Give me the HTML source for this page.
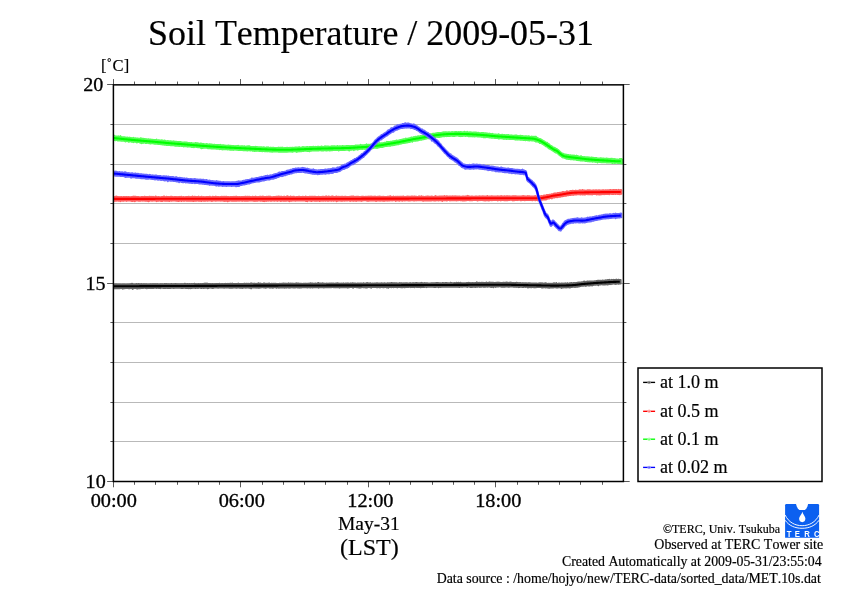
<!DOCTYPE html>
<html lang="en">
<head>
<meta charset="utf-8">
<title>Soil Temperature / 2009-05-31</title>
<style>
html,body{margin:0;padding:0;background:#fff;}
body{width:842px;height:595px;overflow:hidden;}
svg{display:block;will-change:transform;}
text{font-family:"Liberation Serif","Times New Roman",Times,serif;fill:#000;font-kerning:none;font-variant-ligatures:none;stroke:#000;stroke-width:0.18px;}
.logo{font-family:"Liberation Sans",Arial,Helvetica,sans-serif;font-weight:bold;fill:#fff;stroke:none;}
</style>
</head>
<body>
<svg width="842" height="595" viewBox="0 0 842 595">
<rect width="842" height="595" fill="#fff"/>
<g stroke="#b9b9b9" stroke-width="1" fill="none" shape-rendering="crispEdges">
<line x1="113.4" y1="124.5" x2="623.4" y2="124.5"/>
<line x1="113.4" y1="164.5" x2="623.4" y2="164.5"/>
<line x1="113.4" y1="203.5" x2="623.4" y2="203.5"/>
<line x1="113.4" y1="243.5" x2="623.4" y2="243.5"/>
<line x1="113.4" y1="283.5" x2="623.4" y2="283.5"/>
<line x1="113.4" y1="322.5" x2="623.4" y2="322.5"/>
<line x1="113.4" y1="362.5" x2="623.4" y2="362.5"/>
<line x1="113.4" y1="402.5" x2="623.4" y2="402.5"/>
<line x1="113.4" y1="441.5" x2="623.4" y2="441.5"/>
</g>
<g>
<polygon points="113.8,284.40 114.5,284.25 115.3,284.39 116.0,284.10 116.8,284.21 117.5,284.35 118.3,284.32 119.0,284.30 119.8,284.36 120.5,284.38 121.3,284.45 122.0,284.30 122.8,284.23 123.5,284.40 124.3,284.30 125.0,284.27 125.8,284.43 126.5,284.35 127.3,284.20 128.1,284.35 128.8,284.42 129.6,284.34 130.3,284.03 131.1,284.11 131.8,283.60 132.6,283.84 133.3,284.35 134.1,284.27 134.8,284.33 135.6,284.33 136.3,283.76 137.1,284.05 137.8,284.27 138.6,283.77 139.3,284.18 140.1,284.17 140.8,284.21 141.6,283.87 142.3,284.31 143.1,284.33 143.8,283.99 144.6,284.15 145.3,284.33 146.1,284.06 146.8,284.31 147.6,284.31 148.3,284.32 149.1,284.18 149.8,284.15 150.6,284.06 151.3,284.22 152.1,284.07 152.8,284.09 153.6,284.16 154.3,284.04 155.1,283.98 155.8,284.02 156.6,284.29 157.3,283.92 158.1,284.19 158.8,284.27 159.6,284.20 160.3,283.98 161.1,283.94 161.8,284.21 162.6,284.13 163.3,284.19 164.1,284.03 164.8,283.76 165.6,284.18 166.3,283.88 167.1,284.16 167.8,284.00 168.6,284.01 169.3,284.16 170.1,283.96 170.8,284.13 171.6,283.78 172.3,284.19 173.1,284.09 173.8,283.98 174.6,284.15 175.3,283.72 176.1,283.85 176.8,283.94 177.6,283.99 178.3,284.00 179.1,284.19 179.8,284.06 180.6,284.04 181.3,283.92 182.1,284.10 182.8,284.15 183.6,284.09 184.3,283.85 185.1,283.49 185.8,284.12 186.6,284.15 187.3,283.73 188.1,284.05 188.8,283.95 189.6,283.89 190.3,284.10 191.1,283.94 191.8,283.77 192.6,284.02 193.3,283.87 194.1,283.67 194.8,283.60 195.6,284.09 196.3,283.91 197.1,284.07 197.8,284.05 198.6,283.85 199.3,284.09 200.1,284.10 200.8,283.88 201.6,283.95 202.3,283.78 203.1,283.89 203.8,283.63 204.6,283.62 205.3,283.34 206.1,283.89 206.8,283.31 207.6,283.77 208.3,283.69 209.1,283.88 209.8,283.81 210.6,283.90 211.3,283.95 212.1,283.89 212.8,283.92 213.6,283.96 214.3,283.99 215.1,283.78 215.8,283.94 216.6,283.74 217.3,284.02 218.1,283.69 218.8,283.69 219.6,283.58 220.3,284.00 221.1,283.99 221.8,283.85 222.6,283.88 223.3,283.93 224.1,283.87 224.8,283.91 225.6,283.64 226.3,283.74 227.1,283.81 227.8,283.66 228.6,283.71 229.3,283.86 230.1,283.48 230.8,283.62 231.6,283.92 232.3,283.32 233.1,283.96 233.8,283.69 234.6,283.88 235.3,283.76 236.1,283.88 236.8,283.73 237.6,283.74 238.3,283.34 239.1,283.87 239.8,283.75 240.6,283.89 241.3,283.90 242.1,283.89 242.8,283.91 243.6,283.86 244.3,283.41 245.1,283.66 245.8,283.73 246.6,283.55 247.3,283.71 248.1,283.50 248.8,283.74 249.6,283.84 250.3,283.61 251.1,283.02 251.8,283.62 252.6,283.54 253.3,283.64 254.1,283.84 254.8,283.40 255.6,283.81 256.3,283.72 257.1,283.49 257.8,283.57 258.6,283.04 259.3,283.84 260.1,283.36 260.8,283.51 261.6,283.79 262.3,283.67 263.1,283.52 263.8,283.28 264.6,283.22 265.3,283.51 266.1,283.71 266.8,283.62 267.6,283.81 268.3,283.43 269.1,283.25 269.8,283.52 270.6,283.72 271.3,283.65 272.1,283.61 272.8,283.73 273.6,283.63 274.3,283.75 275.1,283.44 275.8,283.65 276.6,283.72 277.3,283.68 278.1,283.76 278.8,283.69 279.6,283.55 280.3,283.67 281.1,283.73 281.8,283.56 282.6,283.60 283.3,283.38 284.1,283.60 284.8,283.41 285.6,283.53 286.3,283.64 287.1,283.62 287.8,283.62 288.6,283.13 289.3,283.61 290.1,283.66 290.8,283.31 291.6,283.50 292.3,283.52 293.1,283.39 293.8,283.69 294.6,283.66 295.3,283.65 296.1,283.23 296.8,283.17 297.6,283.53 298.3,283.24 299.1,283.52 299.8,283.59 300.6,283.60 301.3,283.59 302.1,283.68 302.8,283.62 303.6,283.46 304.3,283.48 305.1,283.54 305.8,283.42 306.6,283.66 307.3,283.54 308.1,283.61 308.8,283.41 309.6,283.48 310.3,283.14 311.1,283.36 311.8,283.65 312.6,283.25 313.3,283.65 314.1,283.64 314.8,283.39 315.6,283.38 316.3,283.46 317.1,283.55 317.8,282.91 318.6,282.71 319.3,283.43 320.1,283.42 320.8,283.38 321.6,283.62 322.3,283.10 323.1,283.44 323.8,283.37 324.6,283.49 325.3,283.54 326.1,283.48 326.8,283.35 327.6,283.49 328.3,283.56 329.1,283.41 329.8,283.20 330.6,283.55 331.3,283.35 332.1,283.31 332.8,283.56 333.6,283.37 334.3,283.56 335.1,283.52 335.8,283.36 336.6,283.40 337.3,283.06 338.1,283.50 338.8,283.41 339.6,283.54 340.3,283.44 341.1,283.37 341.8,283.54 342.6,283.49 343.3,283.15 344.1,283.58 344.8,283.48 345.6,283.29 346.3,283.48 347.1,283.14 347.8,283.38 348.6,283.32 349.3,283.45 350.1,283.53 350.8,283.14 351.6,283.55 352.3,283.05 353.1,283.13 353.8,283.53 354.6,283.36 355.3,283.27 356.1,283.43 356.8,283.47 357.6,283.23 358.3,283.26 359.1,283.48 359.8,283.38 360.6,283.25 361.3,283.19 362.1,283.52 362.8,283.38 363.6,283.12 364.3,283.33 365.1,283.51 365.8,283.37 366.6,283.03 367.3,282.82 368.1,283.43 368.8,283.17 369.6,283.32 370.3,283.10 371.1,283.35 371.8,283.43 372.6,283.31 373.3,283.47 374.1,283.25 374.8,283.32 375.6,283.22 376.3,283.48 377.1,282.97 377.8,283.22 378.6,283.34 379.3,283.20 380.1,283.36 380.8,283.21 381.6,283.14 382.3,283.28 383.1,283.31 383.8,283.25 384.6,283.14 385.3,283.22 386.1,283.42 386.8,283.43 387.6,283.08 388.3,283.22 389.1,283.06 389.8,283.29 390.6,283.20 391.3,282.78 392.1,282.91 392.8,283.25 393.6,283.01 394.3,283.00 395.1,283.04 395.8,283.25 396.6,283.09 397.3,283.19 398.1,283.23 398.8,283.35 399.6,282.93 400.3,283.38 401.1,283.08 401.8,283.10 402.6,283.32 403.3,283.34 404.1,283.02 404.8,283.19 405.6,283.13 406.3,283.15 407.1,283.12 407.8,283.31 408.6,283.27 409.3,283.28 410.1,282.83 410.8,283.28 411.6,283.26 412.3,283.07 413.1,283.10 413.8,282.91 414.6,283.15 415.3,283.17 416.1,282.71 416.8,282.83 417.6,283.14 418.3,283.02 419.1,283.18 419.8,282.94 420.6,282.99 421.3,282.60 422.1,283.05 422.8,282.92 423.6,283.18 424.3,282.92 425.1,282.95 425.8,283.01 426.6,283.05 427.3,282.99 428.1,283.22 428.8,283.21 429.6,283.23 430.3,283.18 431.1,283.06 431.8,283.14 432.6,283.13 433.3,282.93 434.1,283.04 434.8,283.14 435.6,283.09 436.3,282.77 437.1,283.06 437.8,282.69 438.6,283.15 439.3,283.15 440.1,283.00 440.8,283.02 441.6,283.18 442.3,282.86 443.1,282.85 443.8,283.01 444.6,282.97 445.3,282.85 446.1,282.76 446.8,282.90 447.6,283.05 448.3,283.03 449.1,283.14 449.8,282.88 450.6,282.50 451.3,282.86 452.1,283.05 452.8,283.12 453.6,282.98 454.3,282.88 455.1,283.06 455.8,283.05 456.6,282.55 457.3,283.08 458.1,282.69 458.8,282.56 459.6,283.06 460.3,282.60 461.1,282.86 461.8,282.94 462.6,282.98 463.3,283.05 464.1,282.98 464.8,282.99 465.6,283.00 466.3,282.91 467.1,282.77 467.8,283.03 468.6,282.57 469.3,282.94 470.1,282.83 470.8,282.96 471.6,282.92 472.3,282.82 473.1,282.80 473.8,282.92 474.6,282.83 475.3,282.68 476.1,282.86 476.8,282.21 477.6,282.94 478.3,282.67 479.1,282.58 479.8,282.92 480.6,282.71 481.3,282.60 482.1,282.90 482.8,282.61 483.6,282.86 484.3,282.88 485.1,282.82 485.8,282.76 486.6,282.29 487.3,282.86 488.1,282.91 488.8,282.51 489.6,282.26 490.3,282.50 491.1,282.59 491.8,282.55 492.6,282.58 493.3,282.64 494.1,282.71 494.8,282.73 495.6,282.83 496.3,282.51 497.1,282.72 497.8,282.40 498.6,282.51 499.3,282.65 500.1,282.85 500.8,282.66 501.6,282.83 502.3,282.68 503.1,282.59 503.8,282.63 504.6,282.75 505.3,282.45 506.1,282.47 506.8,282.26 507.6,282.73 508.3,282.95 509.1,282.56 509.8,282.55 510.6,282.41 511.3,282.63 512.0,282.86 512.8,282.87 513.5,282.88 514.3,282.99 515.0,282.72 515.8,282.94 516.5,282.56 517.3,282.78 518.0,282.86 518.8,283.17 519.5,282.89 520.3,282.91 521.0,283.00 521.8,283.21 522.5,282.91 523.3,283.13 524.0,282.96 524.8,283.26 525.5,282.95 526.3,282.99 527.0,283.18 527.8,283.13 528.5,282.93 529.3,283.10 530.0,283.01 530.8,283.17 531.5,283.35 532.3,283.42 533.0,283.38 533.8,283.25 534.5,283.22 535.3,283.19 536.0,283.24 536.8,283.37 537.5,283.52 538.3,283.51 539.0,283.04 539.8,283.54 540.5,283.05 541.3,283.51 542.0,283.08 542.8,283.45 543.5,283.41 544.3,283.67 545.0,283.11 545.8,283.17 546.5,283.35 547.3,283.70 548.0,283.65 548.8,283.55 549.5,283.66 550.3,283.49 551.0,283.70 551.8,283.58 552.5,283.54 553.3,283.52 554.0,282.98 554.8,283.48 555.5,283.77 556.3,282.87 557.0,283.69 557.8,283.69 558.5,283.35 559.3,283.32 560.0,283.62 560.8,283.58 561.5,283.35 562.3,283.60 563.0,283.23 563.8,283.43 564.5,283.45 565.3,283.08 566.0,283.51 566.8,283.51 567.5,283.02 568.3,283.55 569.0,283.44 569.8,283.08 570.5,283.32 571.3,282.79 572.0,282.97 572.8,283.33 573.5,282.85 574.3,283.16 575.0,282.86 575.8,282.97 576.5,282.74 577.3,282.66 578.0,282.65 578.8,282.18 579.5,282.37 580.3,282.42 581.0,282.22 581.8,282.09 582.5,282.12 583.3,282.09 584.0,281.30 584.8,281.50 585.5,281.92 586.3,281.83 587.0,281.36 587.8,281.24 588.5,281.60 589.3,281.39 590.0,281.35 590.8,281.42 591.5,281.40 592.3,281.25 593.0,281.35 593.8,281.21 594.5,281.10 595.3,281.21 596.0,280.84 596.8,280.90 597.5,280.63 598.3,280.48 599.0,280.48 599.8,280.75 600.5,280.55 601.3,280.76 602.0,280.59 602.8,280.40 603.5,280.51 604.3,280.50 605.0,280.41 605.8,280.10 606.5,280.34 607.3,280.14 608.0,279.75 608.8,280.28 609.5,279.68 610.3,280.22 611.0,280.02 611.8,279.58 612.5,280.14 613.3,279.59 614.0,280.07 614.8,279.73 615.5,280.03 616.3,279.37 617.0,279.85 617.8,279.84 618.5,279.50 619.3,279.69 620.0,279.81 620.8,279.74 620.8,283.77 620.0,283.52 619.3,283.65 618.5,284.01 617.8,283.82 617.0,283.73 616.3,283.92 615.5,284.10 614.8,283.90 614.0,283.75 613.3,283.81 612.5,283.92 611.8,283.88 611.0,284.36 610.3,283.91 609.5,284.29 608.8,284.33 608.0,284.30 607.3,284.77 606.5,284.36 605.8,284.51 605.0,284.76 604.3,284.66 603.5,284.41 602.8,284.63 602.0,284.50 601.3,284.46 600.5,284.62 599.8,284.66 599.0,284.57 598.3,285.38 597.5,284.77 596.8,284.81 596.0,284.90 595.3,284.92 594.5,284.88 593.8,284.96 593.0,285.14 592.3,285.67 591.5,285.52 590.8,285.39 590.0,285.59 589.3,285.71 588.5,285.65 587.8,285.57 587.0,285.47 586.3,285.88 585.5,286.09 584.8,285.75 584.0,285.79 583.3,285.90 582.5,286.04 581.8,286.05 581.0,286.03 580.3,286.35 579.5,286.57 578.8,286.74 578.0,286.63 577.3,287.06 576.5,286.78 575.8,286.88 575.0,287.25 574.3,287.09 573.5,286.93 572.8,287.08 572.0,287.21 571.3,287.27 570.5,287.34 569.8,287.82 569.0,287.57 568.3,287.33 567.5,287.57 566.8,287.52 566.0,287.75 565.3,287.33 564.5,287.48 563.8,287.66 563.0,287.35 562.3,287.80 561.5,288.08 560.8,287.38 560.0,287.36 559.3,287.38 558.5,287.39 557.8,287.72 557.0,287.57 556.3,287.65 555.5,287.45 554.8,287.54 554.0,287.54 553.3,287.73 552.5,287.65 551.8,287.42 551.0,287.61 550.3,287.83 549.5,287.92 548.8,287.57 548.0,287.97 547.3,287.42 546.5,287.43 545.8,287.68 545.0,287.46 544.3,287.50 543.5,287.45 542.8,287.66 542.0,287.81 541.3,287.28 540.5,287.25 539.8,287.26 539.0,287.20 538.3,287.21 537.5,287.21 536.8,287.33 536.0,287.47 535.3,287.39 534.5,287.58 533.8,287.38 533.0,287.22 532.3,287.26 531.5,287.52 530.8,287.41 530.0,287.11 529.3,287.34 528.5,287.48 527.8,287.68 527.0,287.07 526.3,287.05 525.5,287.08 524.8,287.07 524.0,287.04 523.3,287.31 522.5,286.99 521.8,287.09 521.0,286.90 520.3,286.91 519.5,287.13 518.8,287.33 518.0,286.95 517.3,286.83 516.5,287.08 515.8,286.72 515.0,286.87 514.3,286.81 513.5,286.86 512.8,286.82 512.0,286.73 511.3,286.75 510.6,286.69 509.8,286.74 509.1,286.92 508.3,286.99 507.6,286.60 506.8,286.75 506.1,286.64 505.3,286.84 504.6,286.75 503.8,287.00 503.1,286.88 502.3,286.72 501.6,286.96 500.8,286.70 500.1,286.55 499.3,286.56 498.6,286.67 497.8,286.65 497.1,286.72 496.3,286.55 495.6,287.10 494.8,286.84 494.1,286.51 493.3,287.36 492.6,286.78 491.8,287.06 491.1,287.26 490.3,286.87 489.6,286.59 488.8,286.53 488.1,286.78 487.3,286.86 486.6,286.79 485.8,286.67 485.1,286.94 484.3,286.99 483.6,287.04 482.8,286.63 482.1,286.81 481.3,286.93 480.6,286.70 479.8,287.16 479.1,286.66 478.3,286.74 477.6,286.99 476.8,286.81 476.1,286.85 475.3,287.18 474.6,286.82 473.8,286.85 473.1,286.77 472.3,287.13 471.6,287.26 470.8,287.09 470.1,287.13 469.3,286.73 468.6,286.63 467.8,286.83 467.1,287.17 466.3,286.72 465.6,286.70 464.8,286.75 464.1,286.79 463.3,286.74 462.6,286.86 461.8,286.96 461.1,286.72 460.3,286.81 459.6,287.18 458.8,286.75 458.1,287.10 457.3,286.79 456.6,286.96 455.8,286.74 455.1,286.94 454.3,286.74 453.6,287.03 452.8,286.73 452.1,286.84 451.3,286.89 450.6,286.78 449.8,287.02 449.1,286.96 448.3,286.76 447.6,286.84 446.8,286.95 446.1,286.88 445.3,286.94 444.6,287.06 443.8,286.81 443.1,286.92 442.3,287.03 441.6,286.86 440.8,287.19 440.1,286.92 439.3,287.07 438.6,287.42 437.8,286.92 437.1,286.86 436.3,287.07 435.6,287.21 434.8,287.10 434.1,287.28 433.3,286.90 432.6,287.05 431.8,286.85 431.1,286.95 430.3,287.02 429.6,287.07 428.8,286.97 428.1,286.89 427.3,286.93 426.6,287.38 425.8,287.00 425.1,286.91 424.3,287.12 423.6,286.95 422.8,287.13 422.1,286.99 421.3,287.17 420.6,287.43 419.8,287.08 419.1,287.31 418.3,286.98 417.6,287.09 416.8,287.25 416.1,287.00 415.3,286.97 414.6,287.39 413.8,287.07 413.1,287.16 412.3,287.12 411.6,286.98 410.8,287.36 410.1,286.98 409.3,286.94 408.6,287.30 407.8,287.09 407.1,287.13 406.3,287.22 405.6,287.11 404.8,287.53 404.1,287.37 403.3,287.02 402.6,287.44 401.8,287.26 401.1,287.43 400.3,287.13 399.6,287.04 398.8,287.26 398.1,287.16 397.3,287.63 396.6,287.24 395.8,287.05 395.1,287.26 394.3,287.30 393.6,287.38 392.8,287.28 392.1,287.30 391.3,287.38 390.6,287.20 389.8,287.18 389.1,287.11 388.3,287.90 387.6,287.07 386.8,287.76 386.1,287.13 385.3,287.18 384.6,287.19 383.8,287.46 383.1,287.47 382.3,287.27 381.6,287.20 380.8,287.14 380.1,287.66 379.3,287.30 378.6,287.24 377.8,287.35 377.1,287.27 376.3,287.35 375.6,287.10 374.8,287.28 374.1,287.16 373.3,287.22 372.6,287.11 371.8,287.13 371.1,287.86 370.3,287.41 369.6,287.20 368.8,287.20 368.1,287.12 367.3,287.61 366.6,287.51 365.8,287.69 365.1,287.55 364.3,287.33 363.6,287.39 362.8,287.33 362.1,287.21 361.3,287.50 360.6,287.64 359.8,287.47 359.1,287.91 358.3,287.37 357.6,287.15 356.8,287.39 356.1,287.20 355.3,287.23 354.6,287.27 353.8,287.17 353.1,287.88 352.3,287.26 351.6,287.26 350.8,287.22 350.1,287.27 349.3,287.34 348.6,287.45 347.8,287.83 347.1,287.47 346.3,287.42 345.6,287.25 344.8,287.46 344.1,287.51 343.3,287.26 342.6,287.45 341.8,287.49 341.1,287.41 340.3,287.56 339.6,287.87 338.8,287.29 338.1,287.39 337.3,287.48 336.6,287.46 335.8,287.50 335.1,287.58 334.3,287.39 333.6,287.55 332.8,287.32 332.1,287.29 331.3,287.47 330.6,287.22 329.8,287.57 329.1,287.47 328.3,287.41 327.6,287.39 326.8,287.46 326.1,287.37 325.3,287.50 324.6,287.53 323.8,287.79 323.1,287.24 322.3,287.47 321.6,287.44 320.8,287.39 320.1,287.34 319.3,287.48 318.6,287.88 317.8,287.26 317.1,287.51 316.3,287.53 315.6,287.46 314.8,287.41 314.1,287.49 313.3,287.28 312.6,287.70 311.8,287.28 311.1,287.50 310.3,287.82 309.6,287.49 308.8,287.38 308.1,287.30 307.3,287.73 306.6,287.52 305.8,287.53 305.1,287.41 304.3,287.30 303.6,287.37 302.8,287.51 302.1,287.35 301.3,287.70 300.6,287.34 299.8,287.85 299.1,287.43 298.3,287.70 297.6,287.61 296.8,287.44 296.1,287.35 295.3,287.67 294.6,287.74 293.8,287.33 293.1,287.74 292.3,287.56 291.6,287.37 290.8,287.69 290.1,287.43 289.3,287.87 288.6,287.75 287.8,287.61 287.1,287.37 286.3,287.82 285.6,287.39 284.8,287.89 284.1,287.69 283.3,287.60 282.6,287.62 281.8,287.54 281.1,287.71 280.3,287.69 279.6,287.59 278.8,288.02 278.1,287.39 277.3,287.44 276.6,288.01 275.8,287.54 275.1,287.49 274.3,287.57 273.6,287.50 272.8,288.06 272.1,287.63 271.3,287.65 270.6,287.79 269.8,287.93 269.1,287.48 268.3,287.46 267.6,287.49 266.8,287.48 266.1,287.83 265.3,287.84 264.6,287.55 263.8,287.68 263.1,287.51 262.3,287.45 261.6,287.51 260.8,287.75 260.1,287.75 259.3,287.84 258.6,287.86 257.8,287.91 257.1,287.47 256.3,287.89 255.6,287.67 254.8,287.62 254.1,287.69 253.3,287.64 252.6,287.60 251.8,287.49 251.1,288.61 250.3,287.60 249.6,287.96 248.8,287.86 248.1,287.51 247.3,287.58 246.6,287.63 245.8,287.88 245.1,287.77 244.3,287.71 243.6,287.66 242.8,288.17 242.1,287.52 241.3,287.98 240.6,287.87 239.8,287.92 239.1,287.71 238.3,287.76 237.6,287.57 236.8,287.93 236.1,287.92 235.3,287.57 234.6,287.63 233.8,287.84 233.1,287.63 232.3,288.04 231.6,287.72 230.8,287.95 230.1,287.69 229.3,287.96 228.6,287.63 227.8,287.59 227.1,287.65 226.3,287.83 225.6,287.68 224.8,287.67 224.1,287.90 223.3,287.71 222.6,287.79 221.8,287.79 221.1,287.64 220.3,287.67 219.6,287.82 218.8,287.64 218.1,287.90 217.3,287.69 216.6,287.64 215.8,287.72 215.1,287.78 214.3,287.65 213.6,288.02 212.8,288.16 212.1,287.81 211.3,287.97 210.6,287.68 209.8,287.76 209.1,287.93 208.3,288.20 207.6,288.45 206.8,287.70 206.1,287.88 205.3,287.72 204.6,288.07 203.8,288.22 203.1,288.04 202.3,287.90 201.6,288.23 200.8,288.11 200.1,287.71 199.3,287.78 198.6,288.07 197.8,288.18 197.1,287.74 196.3,288.02 195.6,288.18 194.8,288.00 194.1,287.93 193.3,287.95 192.6,287.82 191.8,288.18 191.1,287.82 190.3,288.39 189.6,287.83 188.8,288.41 188.1,287.86 187.3,288.29 186.6,287.78 185.8,288.21 185.1,287.99 184.3,288.05 183.6,288.05 182.8,288.32 182.1,288.08 181.3,288.28 180.6,287.85 179.8,288.02 179.1,288.04 178.3,288.05 177.6,287.84 176.8,287.93 176.1,287.97 175.3,287.86 174.6,287.85 173.8,288.25 173.1,287.88 172.3,287.94 171.6,288.01 170.8,287.92 170.1,288.19 169.3,287.97 168.6,288.20 167.8,287.96 167.1,288.24 166.3,287.89 165.6,288.21 164.8,288.03 164.1,288.15 163.3,288.19 162.6,288.03 161.8,288.06 161.1,287.93 160.3,288.40 159.6,288.06 158.8,288.22 158.1,287.97 157.3,288.03 156.6,288.24 155.8,288.07 155.1,287.98 154.3,287.91 153.6,288.29 152.8,288.19 152.1,288.21 151.3,288.21 150.6,288.11 149.8,288.19 149.1,288.17 148.3,288.25 147.6,288.05 146.8,288.46 146.1,288.23 145.3,288.11 144.6,287.95 143.8,288.03 143.1,288.30 142.3,288.00 141.6,288.14 140.8,288.05 140.1,288.44 139.3,288.48 138.6,288.31 137.8,288.59 137.1,288.68 136.3,288.25 135.6,288.17 134.8,288.08 134.1,288.16 133.3,288.60 132.6,289.07 131.8,288.20 131.1,288.18 130.3,288.18 129.6,288.53 128.8,288.44 128.1,288.25 127.3,288.20 126.5,288.13 125.8,288.33 125.0,288.18 124.3,288.36 123.5,288.37 122.8,288.88 122.0,288.31 121.3,288.21 120.5,288.31 119.8,288.50 119.0,288.15 118.3,288.52 117.5,288.41 116.8,288.25 116.0,288.37 115.3,288.29 114.5,288.36 113.8,288.36" fill="#666666" stroke="#666666" stroke-width="1.6" stroke-linejoin="round"/>
<polyline points="113.8,286.30 114.8,286.30 115.8,286.29 116.8,286.29 117.8,286.28 118.8,286.28 119.8,286.27 120.8,286.27 121.8,286.26 122.8,286.26 123.8,286.25 124.8,286.25 125.8,286.24 126.8,286.24 127.8,286.23 128.8,286.23 129.8,286.22 130.8,286.22 131.8,286.21 132.8,286.21 133.8,286.20 134.8,286.20 135.8,286.19 136.8,286.19 137.8,286.18 138.8,286.18 139.8,286.17 140.8,286.17 141.8,286.16 142.8,286.16 143.8,286.15 144.8,286.15 145.8,286.15 146.8,286.14 147.8,286.14 148.8,286.13 149.8,286.13 150.8,286.12 151.8,286.12 152.8,286.11 153.8,286.11 154.8,286.10 155.8,286.10 156.8,286.09 157.8,286.09 158.8,286.08 159.8,286.08 160.8,286.08 161.8,286.07 162.8,286.07 163.8,286.06 164.8,286.06 165.8,286.05 166.8,286.05 167.8,286.04 168.8,286.04 169.8,286.03 170.8,286.03 171.8,286.02 172.8,286.02 173.8,286.02 174.8,286.01 175.8,286.01 176.8,286.00 177.8,286.00 178.8,285.99 179.8,285.99 180.8,285.98 181.8,285.98 182.8,285.98 183.8,285.97 184.8,285.97 185.8,285.96 186.8,285.96 187.8,285.95 188.8,285.95 189.8,285.94 190.8,285.94 191.8,285.94 192.8,285.93 193.8,285.93 194.8,285.92 195.8,285.92 196.8,285.91 197.8,285.91 198.8,285.91 199.8,285.90 200.8,285.90 201.8,285.89 202.8,285.89 203.8,285.88 204.8,285.88 205.8,285.88 206.8,285.87 207.8,285.87 208.8,285.86 209.8,285.86 210.8,285.85 211.8,285.85 212.8,285.84 213.8,285.84 214.8,285.84 215.8,285.83 216.8,285.83 217.8,285.82 218.8,285.82 219.8,285.81 220.8,285.81 221.8,285.81 222.8,285.80 223.8,285.80 224.8,285.79 225.8,285.79 226.8,285.78 227.8,285.78 228.8,285.78 229.8,285.77 230.8,285.77 231.8,285.76 232.8,285.76 233.8,285.76 234.8,285.75 235.8,285.75 236.8,285.74 237.8,285.74 238.8,285.73 239.8,285.73 240.8,285.73 241.8,285.72 242.8,285.72 243.8,285.71 244.8,285.71 245.8,285.70 246.8,285.70 247.8,285.70 248.8,285.69 249.8,285.69 250.8,285.68 251.8,285.68 252.8,285.68 253.8,285.67 254.8,285.67 255.8,285.66 256.8,285.66 257.8,285.66 258.8,285.65 259.8,285.65 260.8,285.64 261.8,285.64 262.8,285.64 263.8,285.63 264.8,285.63 265.8,285.62 266.8,285.62 267.8,285.62 268.8,285.61 269.8,285.61 270.8,285.60 271.8,285.60 272.8,285.60 273.8,285.59 274.8,285.59 275.8,285.59 276.8,285.58 277.8,285.58 278.8,285.57 279.8,285.57 280.8,285.57 281.8,285.56 282.8,285.56 283.8,285.56 284.8,285.55 285.8,285.55 286.8,285.55 287.8,285.54 288.8,285.54 289.8,285.53 290.8,285.53 291.8,285.53 292.8,285.52 293.8,285.52 294.8,285.52 295.8,285.51 296.8,285.51 297.8,285.51 298.8,285.50 299.8,285.50 300.8,285.50 301.8,285.49 302.8,285.49 303.8,285.49 304.8,285.48 305.8,285.48 306.8,285.48 307.8,285.48 308.8,285.47 309.8,285.47 310.8,285.47 311.8,285.46 312.8,285.46 313.8,285.46 314.8,285.46 315.8,285.45 316.8,285.45 317.8,285.45 318.8,285.44 319.8,285.44 320.8,285.44 321.8,285.44 322.8,285.43 323.8,285.43 324.8,285.43 325.8,285.43 326.8,285.42 327.8,285.42 328.8,285.42 329.8,285.41 330.8,285.41 331.8,285.41 332.8,285.41 333.8,285.40 334.8,285.40 335.8,285.40 336.8,285.40 337.8,285.39 338.8,285.39 339.8,285.39 340.8,285.39 341.8,285.38 342.8,285.38 343.8,285.38 344.8,285.38 345.8,285.37 346.8,285.37 347.8,285.37 348.8,285.36 349.8,285.36 350.8,285.36 351.8,285.36 352.8,285.35 353.8,285.35 354.8,285.35 355.8,285.34 356.8,285.34 357.8,285.34 358.8,285.34 359.8,285.33 360.8,285.33 361.8,285.33 362.8,285.32 363.8,285.32 364.8,285.32 365.8,285.31 366.8,285.31 367.8,285.31 368.8,285.30 369.8,285.30 370.8,285.30 371.8,285.29 372.8,285.29 373.8,285.29 374.8,285.28 375.8,285.28 376.8,285.28 377.8,285.27 378.8,285.27 379.8,285.26 380.8,285.26 381.8,285.26 382.8,285.25 383.8,285.25 384.8,285.25 385.8,285.24 386.8,285.24 387.8,285.23 388.8,285.23 389.8,285.23 390.8,285.22 391.8,285.22 392.8,285.21 393.8,285.21 394.8,285.20 395.8,285.20 396.8,285.20 397.8,285.19 398.8,285.19 399.8,285.18 400.8,285.18 401.8,285.17 402.8,285.17 403.8,285.17 404.8,285.16 405.8,285.16 406.8,285.15 407.8,285.15 408.8,285.14 409.8,285.14 410.8,285.13 411.8,285.13 412.8,285.13 413.8,285.12 414.8,285.12 415.8,285.11 416.8,285.11 417.8,285.10 418.8,285.10 419.8,285.09 420.8,285.09 421.8,285.08 422.8,285.08 423.8,285.08 424.8,285.07 425.8,285.07 426.8,285.06 427.8,285.06 428.8,285.05 429.8,285.05 430.8,285.04 431.8,285.04 432.8,285.03 433.8,285.03 434.8,285.02 435.8,285.02 436.8,285.01 437.8,285.01 438.8,285.01 439.8,285.00 440.8,285.00 441.8,284.99 442.8,284.99 443.8,284.98 444.8,284.98 445.8,284.97 446.8,284.96 447.8,284.96 448.8,284.95 449.8,284.95 450.8,284.94 451.8,284.93 452.8,284.93 453.8,284.92 454.8,284.92 455.8,284.91 456.8,284.90 457.8,284.90 458.8,284.89 459.8,284.88 460.8,284.88 461.8,284.87 462.8,284.86 463.8,284.86 464.8,284.85 465.8,284.84 466.8,284.84 467.8,284.83 468.8,284.82 469.8,284.82 470.8,284.81 471.8,284.80 472.8,284.80 473.8,284.79 474.8,284.79 475.8,284.78 476.8,284.77 477.8,284.77 478.8,284.76 479.8,284.76 480.8,284.75 481.8,284.75 482.8,284.74 483.8,284.74 484.8,284.73 485.8,284.73 486.8,284.73 487.8,284.72 488.8,284.72 489.8,284.72 490.8,284.71 491.8,284.71 492.8,284.71 493.8,284.71 494.8,284.70 495.8,284.70 496.8,284.70 497.8,284.70 498.8,284.70 499.8,284.70 500.8,284.70 501.8,284.70 502.8,284.71 503.8,284.72 504.8,284.72 505.8,284.73 506.8,284.75 507.8,284.76 508.8,284.77 509.8,284.79 510.8,284.81 511.8,284.83 512.8,284.84 513.8,284.86 514.8,284.88 515.8,284.91 516.8,284.93 517.8,284.95 518.8,284.97 519.8,284.99 520.8,285.02 521.8,285.04 522.8,285.06 523.8,285.08 524.8,285.10 525.8,285.12 526.8,285.14 527.8,285.16 528.8,285.18 529.8,285.20 530.8,285.21 531.8,285.23 532.8,285.25 533.8,285.27 534.8,285.29 535.8,285.31 536.8,285.33 537.8,285.35 538.8,285.37 539.8,285.40 540.8,285.42 541.8,285.44 542.8,285.46 543.8,285.48 544.8,285.49 545.8,285.51 546.8,285.53 547.8,285.54 548.8,285.56 549.8,285.57 550.8,285.58 551.8,285.59 552.8,285.59 553.8,285.60 554.8,285.60 555.8,285.60 556.8,285.59 557.8,285.59 558.8,285.58 559.8,285.56 560.8,285.55 561.8,285.53 562.8,285.51 563.8,285.48 564.8,285.46 565.8,285.43 566.8,285.40 567.8,285.37 568.8,285.34 569.8,285.31 570.8,285.27 571.8,285.21 572.8,285.14 573.8,285.05 574.8,284.95 575.8,284.85 576.8,284.73 577.8,284.61 578.8,284.49 579.8,284.37 580.8,284.26 581.8,284.14 582.8,284.04 583.8,283.94 584.8,283.85 585.8,283.77 586.8,283.68 587.8,283.60 588.8,283.52 589.8,283.44 590.8,283.36 591.8,283.28 592.8,283.21 593.8,283.13 594.8,283.06 595.8,282.99 596.8,282.92 597.8,282.85 598.8,282.78 599.8,282.71 600.8,282.65 601.8,282.58 602.8,282.52 603.8,282.45 604.8,282.39 605.8,282.33 606.8,282.27 607.8,282.21 608.8,282.16 609.8,282.10 610.8,282.05 611.8,282.01 612.8,281.96 613.8,281.92 614.8,281.88 615.8,281.84 616.8,281.80 617.8,281.77 618.8,281.74 619.8,281.71" fill="none" stroke="#000000" stroke-width="2.1" stroke-linejoin="round" stroke-linecap="butt"/>
<polygon points="113.8,196.99 114.5,196.89 115.3,196.93 116.0,196.32 116.8,196.51 117.5,196.70 118.3,196.95 119.0,196.81 119.8,196.96 120.5,196.88 121.3,196.75 122.0,196.95 122.8,196.95 123.5,196.81 124.3,196.91 125.0,197.01 125.8,196.88 126.5,196.86 127.3,197.00 128.1,196.77 128.8,196.79 129.6,196.98 130.3,196.94 131.1,196.92 131.8,196.74 132.6,196.80 133.3,196.42 134.1,196.55 134.8,196.52 135.6,196.59 136.3,196.78 137.1,197.00 137.8,196.71 138.6,196.82 139.3,196.97 140.1,196.95 140.8,196.98 141.6,196.77 142.3,196.69 143.1,196.91 143.8,196.96 144.6,196.49 145.3,196.80 146.1,196.71 146.8,196.86 147.6,196.74 148.3,196.96 149.1,196.63 149.8,196.47 150.6,196.69 151.3,196.72 152.1,196.60 152.8,196.98 153.6,196.66 154.3,197.00 155.1,196.73 155.8,196.31 156.6,196.94 157.3,196.94 158.1,196.79 158.8,196.83 159.6,196.96 160.3,196.97 161.1,196.99 161.8,196.83 162.6,196.70 163.3,196.56 164.1,196.29 164.8,196.66 165.6,197.00 166.3,196.57 167.1,197.02 167.8,196.80 168.6,196.87 169.3,196.99 170.1,196.64 170.8,196.75 171.6,196.49 172.3,196.91 173.1,196.89 173.8,196.93 174.6,196.81 175.3,196.75 176.1,196.98 176.8,196.79 177.6,196.97 178.3,196.74 179.1,196.95 179.8,196.67 180.6,196.76 181.3,196.58 182.1,196.81 182.8,196.96 183.6,196.76 184.3,196.94 185.1,196.99 185.8,196.88 186.6,196.80 187.3,196.80 188.1,196.76 188.8,196.54 189.6,196.93 190.3,196.88 191.1,196.73 191.8,196.81 192.6,196.27 193.3,196.91 194.1,196.87 194.8,196.44 195.6,196.69 196.3,196.71 197.1,196.72 197.8,196.89 198.6,196.41 199.3,196.73 200.1,196.95 200.8,196.71 201.6,196.50 202.3,196.77 203.1,196.98 203.8,196.77 204.6,196.98 205.3,196.95 206.1,196.78 206.8,196.76 207.6,196.80 208.3,196.83 209.1,196.84 209.8,196.59 210.6,196.82 211.3,196.97 212.1,196.79 212.8,196.60 213.6,196.75 214.3,196.83 215.1,196.86 215.8,196.37 216.6,196.98 217.3,196.84 218.1,196.71 218.8,196.75 219.6,196.93 220.3,196.87 221.1,196.88 221.8,196.52 222.6,196.79 223.3,196.72 224.1,196.47 224.8,196.90 225.6,196.66 226.3,196.57 227.1,196.86 227.8,196.72 228.6,196.84 229.3,196.98 230.1,196.89 230.8,196.91 231.6,196.76 232.3,196.79 233.1,196.96 233.8,196.58 234.6,196.74 235.3,196.93 236.1,196.35 236.8,196.76 237.6,196.91 238.3,196.91 239.1,196.70 239.8,196.78 240.6,196.92 241.3,196.68 242.1,196.89 242.8,196.88 243.6,196.71 244.3,196.67 245.1,196.83 245.8,196.39 246.6,196.94 247.3,196.60 248.1,196.64 248.8,196.74 249.6,196.65 250.3,196.71 251.1,196.95 251.8,196.91 252.6,196.52 253.3,196.75 254.1,196.89 254.8,196.80 255.6,196.37 256.3,196.88 257.1,196.71 257.8,196.92 258.6,196.76 259.3,196.80 260.1,196.39 260.8,196.91 261.6,196.64 262.3,196.54 263.1,196.41 263.8,196.82 264.6,196.80 265.3,196.69 266.1,196.72 266.8,196.57 267.6,196.88 268.3,196.45 269.1,196.38 269.8,196.87 270.6,196.58 271.3,196.93 272.1,196.95 272.8,196.90 273.6,196.75 274.3,196.85 275.1,196.88 275.8,196.67 276.6,196.61 277.3,196.56 278.1,196.57 278.8,196.27 279.6,196.75 280.3,196.82 281.1,196.39 281.8,196.76 282.6,196.79 283.3,196.78 284.1,196.42 284.8,196.62 285.6,196.78 286.3,196.82 287.1,196.11 287.8,196.32 288.6,196.67 289.3,196.82 290.1,196.76 290.8,196.27 291.6,196.92 292.3,196.73 293.1,196.57 293.8,196.48 294.6,196.80 295.3,196.93 296.1,196.90 296.8,196.70 297.6,196.70 298.3,196.58 299.1,196.42 299.8,196.85 300.6,196.72 301.3,196.90 302.1,196.76 302.8,196.59 303.6,196.81 304.3,196.72 305.1,196.57 305.8,196.39 306.6,196.69 307.3,196.72 308.1,196.71 308.8,196.93 309.6,196.51 310.3,196.81 311.1,196.55 311.8,196.83 312.6,196.63 313.3,196.79 314.1,196.54 314.8,196.47 315.6,196.65 316.3,196.73 317.1,196.85 317.8,196.91 318.6,196.48 319.3,196.69 320.1,196.86 320.8,196.71 321.6,196.72 322.3,196.49 323.1,196.76 323.8,196.52 324.6,196.70 325.3,196.68 326.1,196.12 326.8,196.70 327.6,196.78 328.3,196.34 329.1,196.60 329.8,196.64 330.6,196.77 331.3,196.83 332.1,196.13 332.8,196.80 333.6,196.57 334.3,196.89 335.1,196.83 335.8,196.57 336.6,196.34 337.3,196.68 338.1,196.68 338.8,196.43 339.6,196.73 340.3,196.76 341.1,196.65 341.8,196.44 342.6,196.50 343.3,196.74 344.1,196.89 344.8,196.60 345.6,196.46 346.3,196.78 347.1,196.87 347.8,196.77 348.6,196.76 349.3,196.77 350.1,196.52 350.8,196.51 351.6,196.37 352.3,196.75 353.1,196.22 353.8,196.38 354.6,196.84 355.3,196.76 356.1,196.59 356.8,196.82 357.6,196.55 358.3,196.52 359.1,196.70 359.8,196.85 360.6,196.67 361.3,196.75 362.1,196.34 362.8,196.71 363.6,196.64 364.3,196.84 365.1,196.80 365.8,196.54 366.6,196.82 367.3,196.65 368.1,196.85 368.8,196.29 369.6,196.80 370.3,196.55 371.1,196.37 371.8,196.51 372.6,196.84 373.3,196.55 374.1,196.72 374.8,196.36 375.6,196.47 376.3,196.73 377.1,196.76 377.8,196.52 378.6,196.47 379.3,196.41 380.1,196.48 380.8,196.54 381.6,196.78 382.3,196.75 383.1,196.50 383.8,196.82 384.6,196.66 385.3,196.80 386.1,196.68 386.8,196.74 387.6,196.47 388.3,196.43 389.1,196.55 389.8,196.22 390.6,196.17 391.3,196.78 392.1,196.81 392.8,196.68 393.6,196.32 394.3,196.79 395.1,196.77 395.8,196.43 396.6,196.78 397.3,196.65 398.1,196.51 398.8,196.75 399.6,196.67 400.3,196.59 401.1,196.50 401.8,196.55 402.6,196.62 403.3,196.26 404.1,196.68 404.8,196.70 405.6,196.68 406.3,196.46 407.1,196.62 407.8,196.26 408.6,196.68 409.3,196.49 410.1,196.60 410.8,196.47 411.6,196.39 412.3,196.39 413.1,196.52 413.8,196.39 414.6,196.22 415.3,196.68 416.1,196.47 416.8,196.63 417.6,196.73 418.3,196.51 419.1,196.16 419.8,196.73 420.6,196.65 421.3,195.96 422.1,196.56 422.8,196.54 423.6,196.58 424.3,196.69 425.1,196.63 425.8,196.46 426.6,196.60 427.3,196.30 428.1,196.27 428.8,196.63 429.6,196.64 430.3,196.48 431.1,196.56 431.8,196.27 432.6,196.43 433.3,196.68 434.1,196.58 434.8,196.41 435.6,195.76 436.3,196.50 437.1,196.63 437.8,196.59 438.6,196.54 439.3,196.27 440.1,196.51 440.8,196.25 441.6,196.30 442.3,196.33 443.1,196.33 443.8,196.44 444.6,195.81 445.3,196.51 446.1,196.34 446.8,196.05 447.6,196.23 448.3,196.44 449.1,196.31 449.8,196.24 450.6,196.40 451.3,196.54 452.1,196.17 452.8,196.09 453.6,196.43 454.3,196.30 455.1,196.13 455.8,196.20 456.6,196.31 457.3,196.36 458.1,196.52 458.8,196.41 459.6,196.39 460.3,196.48 461.1,196.50 461.8,196.44 462.6,196.31 463.3,196.37 464.1,196.41 464.8,196.43 465.6,196.18 466.3,196.09 467.1,196.51 467.8,195.62 468.6,196.34 469.3,196.28 470.1,196.40 470.8,196.45 471.6,196.27 472.3,196.28 473.1,196.49 473.8,196.47 474.6,196.48 475.3,196.33 476.1,196.20 476.8,196.26 477.6,196.43 478.3,196.40 479.1,196.16 479.8,196.28 480.6,196.34 481.3,196.29 482.1,196.39 482.8,196.12 483.6,196.30 484.3,196.25 485.1,196.26 485.8,196.42 486.6,196.34 487.3,195.76 488.1,196.14 488.8,196.42 489.6,196.37 490.3,196.21 491.1,196.31 491.8,196.05 492.6,196.33 493.3,196.25 494.1,196.22 494.8,196.33 495.6,196.33 496.3,196.32 497.1,196.27 497.8,196.11 498.6,196.19 499.3,196.33 500.1,196.28 500.8,196.11 501.6,195.90 502.3,196.22 503.1,196.40 503.8,196.23 504.6,195.98 505.3,196.35 506.1,196.35 506.8,196.01 507.6,196.08 508.3,196.19 509.1,196.14 509.8,196.26 510.6,196.29 511.3,196.37 512.0,196.38 512.8,195.93 513.5,195.97 514.3,196.32 515.0,196.04 515.8,196.04 516.5,196.35 517.3,196.31 518.0,196.19 518.8,196.18 519.5,196.36 520.3,196.22 521.0,196.39 521.8,196.16 522.5,196.24 523.3,195.79 524.0,196.38 524.8,196.09 525.5,196.23 526.3,196.39 527.0,196.31 527.8,195.83 528.5,196.34 529.3,195.98 530.0,196.36 530.8,196.22 531.5,196.28 532.3,196.19 533.0,196.19 533.8,196.25 534.5,196.21 535.3,195.85 536.0,196.20 536.8,196.40 537.5,196.04 538.3,196.31 539.0,196.29 539.8,196.22 540.5,196.19 541.3,195.80 542.0,195.99 542.8,196.03 543.5,195.50 544.3,195.30 545.0,195.48 545.8,195.45 546.5,194.84 547.3,195.08 548.0,194.76 548.8,194.79 549.5,194.53 550.3,194.46 551.0,194.31 551.8,194.04 552.5,193.97 553.3,193.75 554.0,193.41 554.8,193.32 555.5,193.16 556.3,193.34 557.0,193.21 557.8,192.82 558.5,192.70 559.3,192.99 560.0,192.51 560.8,192.52 561.5,192.45 562.3,192.08 563.0,191.86 563.8,192.09 564.5,191.99 565.3,191.94 566.0,191.81 566.8,190.96 567.5,191.30 568.3,191.44 569.0,191.37 569.8,191.14 570.5,190.85 571.3,190.69 572.0,191.02 572.8,190.49 573.5,190.74 574.3,190.78 575.0,190.74 575.8,190.39 576.5,190.77 577.3,190.70 578.0,190.64 578.8,190.62 579.5,190.17 580.3,190.15 581.0,190.62 581.8,190.13 582.5,189.80 583.3,190.59 584.0,190.25 584.8,190.35 585.5,190.54 586.3,190.45 587.0,190.26 587.8,190.05 588.5,190.41 589.3,190.11 590.0,190.38 590.8,190.16 591.5,190.44 592.3,190.35 593.0,190.15 593.8,190.28 594.5,190.25 595.3,190.22 596.0,190.05 596.8,190.31 597.5,190.21 598.3,190.34 599.0,190.12 599.8,190.38 600.5,190.33 601.3,190.35 602.0,190.26 602.8,190.16 603.5,190.13 604.3,190.18 605.0,190.31 605.8,190.11 606.5,190.27 607.3,190.14 608.0,190.29 608.8,190.11 609.5,190.05 610.3,189.75 611.0,190.00 611.8,189.93 612.5,190.00 613.3,189.69 614.0,189.79 614.8,190.20 615.5,189.89 616.3,189.78 617.0,190.22 617.8,190.00 618.5,189.66 619.3,189.97 620.0,189.97 620.8,189.86 621.5,190.02 621.5,193.93 620.8,193.87 620.0,194.39 619.3,194.25 618.5,193.94 617.8,194.21 617.0,193.96 616.3,193.94 615.5,194.11 614.8,193.90 614.0,194.09 613.3,194.19 612.5,194.24 611.8,194.21 611.0,193.88 610.3,193.90 609.5,194.37 608.8,194.14 608.0,194.00 607.3,194.11 606.5,194.04 605.8,194.16 605.0,194.06 604.3,194.37 603.5,194.13 602.8,193.98 602.0,194.37 601.3,194.54 600.5,194.43 599.8,194.78 599.0,194.10 598.3,194.57 597.5,194.21 596.8,194.70 596.0,194.32 595.3,194.10 594.5,194.09 593.8,194.31 593.0,194.21 592.3,194.70 591.5,194.35 590.8,194.43 590.0,194.54 589.3,194.28 588.5,194.50 587.8,194.44 587.0,194.23 586.3,194.24 585.5,194.62 584.8,194.61 584.0,194.71 583.3,194.37 582.5,194.70 581.8,194.32 581.0,194.61 580.3,194.61 579.5,194.55 578.8,194.56 578.0,194.49 577.3,194.57 576.5,194.65 575.8,194.48 575.0,194.68 574.3,194.64 573.5,195.08 572.8,194.87 572.0,195.07 571.3,194.96 570.5,195.22 569.8,195.06 569.0,195.23 568.3,195.47 567.5,195.30 566.8,195.57 566.0,196.00 565.3,195.91 564.5,196.03 563.8,196.10 563.0,196.35 562.3,196.41 561.5,196.56 560.8,196.70 560.0,196.97 559.3,196.70 558.5,197.11 557.8,196.88 557.0,197.49 556.3,197.33 555.5,197.23 554.8,197.65 554.0,197.66 553.3,197.83 552.5,197.97 551.8,198.60 551.0,198.14 550.3,198.12 549.5,198.61 548.8,198.68 548.0,198.62 547.3,198.96 546.5,199.40 545.8,199.68 545.0,199.41 544.3,199.63 543.5,199.58 542.8,199.69 542.0,199.84 541.3,199.93 540.5,200.21 539.8,200.56 539.0,200.12 538.3,200.35 537.5,200.43 536.8,200.13 536.0,200.26 535.3,200.49 534.5,200.02 533.8,200.01 533.0,200.26 532.3,200.56 531.5,200.15 530.8,200.09 530.0,200.01 529.3,200.16 528.5,200.13 527.8,200.26 527.0,200.14 526.3,200.22 525.5,200.22 524.8,200.40 524.0,200.31 523.3,200.09 522.5,200.24 521.8,200.13 521.0,200.44 520.3,200.36 519.5,200.06 518.8,200.05 518.0,200.24 517.3,200.33 516.5,200.11 515.8,200.02 515.0,200.31 514.3,200.42 513.5,200.09 512.8,200.63 512.0,200.27 511.3,200.07 510.6,200.07 509.8,200.21 509.1,200.13 508.3,200.16 507.6,200.36 506.8,200.41 506.1,200.29 505.3,200.47 504.6,200.52 503.8,200.36 503.1,200.08 502.3,200.28 501.6,200.23 500.8,200.64 500.1,200.23 499.3,200.11 498.6,200.06 497.8,200.72 497.1,200.10 496.3,200.07 495.6,200.17 494.8,200.23 494.1,200.16 493.3,200.31 492.6,200.26 491.8,200.56 491.1,200.16 490.3,200.08 489.6,200.58 488.8,200.75 488.1,200.38 487.3,200.30 486.6,200.52 485.8,200.56 485.1,200.76 484.3,200.11 483.6,200.43 482.8,200.34 482.1,200.13 481.3,200.30 480.6,200.26 479.8,200.33 479.1,200.24 478.3,200.26 477.6,200.76 476.8,200.31 476.1,200.26 475.3,200.14 474.6,200.16 473.8,200.15 473.1,200.23 472.3,200.56 471.6,200.28 470.8,200.34 470.1,200.32 469.3,200.34 468.6,200.24 467.8,200.19 467.1,200.33 466.3,200.30 465.6,200.47 464.8,200.77 464.1,200.20 463.3,200.75 462.6,200.63 461.8,200.36 461.1,200.34 460.3,200.38 459.6,200.20 458.8,200.19 458.1,200.40 457.3,200.27 456.6,200.67 455.8,200.41 455.1,200.41 454.3,200.23 453.6,200.38 452.8,200.31 452.1,200.43 451.3,200.39 450.6,200.30 449.8,200.69 449.1,200.23 448.3,200.27 447.6,200.29 446.8,200.81 446.1,200.46 445.3,200.29 444.6,200.58 443.8,200.46 443.1,200.49 442.3,201.11 441.6,200.40 440.8,200.36 440.1,200.31 439.3,200.37 438.6,200.64 437.8,200.47 437.1,200.32 436.3,200.45 435.6,200.76 434.8,200.42 434.1,200.72 433.3,200.42 432.6,200.44 431.8,200.43 431.1,200.72 430.3,200.58 429.6,200.73 428.8,200.41 428.1,200.69 427.3,200.46 426.6,200.72 425.8,200.43 425.1,200.61 424.3,200.39 423.6,200.86 422.8,200.93 422.1,200.48 421.3,200.45 420.6,200.35 419.8,200.39 419.1,200.43 418.3,200.52 417.6,200.35 416.8,200.52 416.1,200.58 415.3,200.43 414.6,200.82 413.8,200.76 413.1,200.46 412.3,200.45 411.6,200.55 410.8,200.52 410.1,200.69 409.3,200.77 408.6,200.58 407.8,200.60 407.1,200.41 406.3,200.42 405.6,200.47 404.8,200.80 404.1,200.56 403.3,200.50 402.6,200.85 401.8,200.71 401.1,200.40 400.3,200.46 399.6,200.98 398.8,200.78 398.1,200.73 397.3,200.49 396.6,200.43 395.8,201.09 395.1,200.44 394.3,200.47 393.6,200.48 392.8,200.53 392.1,200.78 391.3,200.55 390.6,200.49 389.8,200.65 389.1,200.59 388.3,200.53 387.6,200.89 386.8,200.45 386.1,200.64 385.3,200.63 384.6,200.92 383.8,200.65 383.1,201.03 382.3,200.51 381.6,200.46 380.8,200.80 380.1,200.87 379.3,200.76 378.6,200.52 377.8,200.71 377.1,200.68 376.3,201.10 375.6,200.95 374.8,200.47 374.1,200.69 373.3,200.54 372.6,200.77 371.8,200.71 371.1,200.61 370.3,200.62 369.6,200.78 368.8,200.88 368.1,200.63 367.3,200.95 366.6,200.67 365.8,200.50 365.1,200.49 364.3,200.51 363.6,200.48 362.8,200.59 362.1,200.70 361.3,201.08 360.6,200.63 359.8,200.68 359.1,200.75 358.3,200.55 357.6,200.78 356.8,200.62 356.1,201.22 355.3,200.60 354.6,200.63 353.8,200.99 353.1,200.85 352.3,200.76 351.6,200.76 350.8,200.49 350.1,201.06 349.3,200.50 348.6,200.51 347.8,200.69 347.1,200.73 346.3,200.72 345.6,200.78 344.8,200.71 344.1,200.85 343.3,200.57 342.6,200.90 341.8,200.88 341.1,200.85 340.3,200.67 339.6,200.59 338.8,200.55 338.1,200.89 337.3,200.76 336.6,201.44 335.8,200.71 335.1,200.73 334.3,200.62 333.6,200.99 332.8,200.57 332.1,200.59 331.3,200.98 330.6,200.82 329.8,200.77 329.1,200.70 328.3,201.02 327.6,200.95 326.8,200.82 326.1,200.55 325.3,200.90 324.6,200.79 323.8,200.74 323.1,201.00 322.3,200.73 321.6,200.74 320.8,201.04 320.1,200.74 319.3,201.22 318.6,200.65 317.8,200.55 317.1,201.03 316.3,200.87 315.6,200.86 314.8,200.94 314.1,200.66 313.3,200.57 312.6,200.63 311.8,201.23 311.1,200.76 310.3,201.01 309.6,200.64 308.8,200.66 308.1,200.70 307.3,201.44 306.6,200.80 305.8,201.25 305.1,200.68 304.3,200.57 303.6,200.82 302.8,200.63 302.1,200.68 301.3,200.74 300.6,200.78 299.8,200.66 299.1,200.74 298.3,200.68 297.6,200.57 296.8,200.74 296.1,200.73 295.3,200.95 294.6,200.83 293.8,200.64 293.1,200.57 292.3,200.79 291.6,200.97 290.8,200.94 290.1,200.63 289.3,201.36 288.6,200.84 287.8,200.75 287.1,200.62 286.3,200.91 285.6,200.67 284.8,201.00 284.1,200.90 283.3,200.96 282.6,200.66 281.8,200.64 281.1,201.16 280.3,200.89 279.6,200.58 278.8,200.57 278.1,200.64 277.3,201.07 276.6,200.62 275.8,200.58 275.1,200.62 274.3,200.95 273.6,200.74 272.8,200.76 272.1,200.65 271.3,201.04 270.6,200.87 269.8,200.59 269.1,200.79 268.3,200.86 267.6,200.60 266.8,201.07 266.1,200.66 265.3,201.09 264.6,201.33 263.8,200.96 263.1,201.30 262.3,200.62 261.6,200.66 260.8,201.06 260.1,200.71 259.3,200.75 258.6,200.58 257.8,200.84 257.1,200.89 256.3,200.71 255.6,200.86 254.8,201.12 254.1,200.78 253.3,200.90 252.6,200.74 251.8,200.72 251.1,200.67 250.3,200.78 249.6,200.64 248.8,200.84 248.1,200.99 247.3,200.68 246.6,200.86 245.8,200.82 245.1,200.94 244.3,200.87 243.6,200.70 242.8,200.72 242.1,201.11 241.3,200.64 240.6,200.61 239.8,200.64 239.1,200.95 238.3,200.68 237.6,200.67 236.8,200.99 236.1,200.65 235.3,200.90 234.6,201.04 233.8,200.69 233.1,201.00 232.3,200.75 231.6,200.84 230.8,200.75 230.1,200.71 229.3,200.99 228.6,200.71 227.8,201.48 227.1,200.98 226.3,200.87 225.6,200.80 224.8,201.15 224.1,200.63 223.3,200.98 222.6,200.64 221.8,200.63 221.1,200.85 220.3,200.65 219.6,200.65 218.8,200.59 218.1,200.68 217.3,200.71 216.6,200.66 215.8,200.85 215.1,200.69 214.3,200.62 213.6,200.75 212.8,200.79 212.1,201.17 211.3,200.91 210.6,200.60 209.8,200.77 209.1,200.63 208.3,200.60 207.6,201.04 206.8,200.71 206.1,200.65 205.3,200.90 204.6,200.72 203.8,201.07 203.1,200.73 202.3,200.70 201.6,201.24 200.8,200.79 200.1,201.01 199.3,201.03 198.6,201.00 197.8,200.71 197.1,200.81 196.3,200.94 195.6,200.88 194.8,200.78 194.1,200.90 193.3,201.25 192.6,200.77 191.8,200.88 191.1,200.84 190.3,200.81 189.6,200.88 188.8,201.03 188.1,200.98 187.3,200.89 186.6,200.95 185.8,200.75 185.1,200.68 184.3,200.93 183.6,200.89 182.8,200.66 182.1,200.62 181.3,201.26 180.6,200.63 179.8,200.66 179.1,201.12 178.3,201.31 177.6,200.77 176.8,201.00 176.1,200.91 175.3,200.70 174.6,200.79 173.8,200.70 173.1,200.74 172.3,200.73 171.6,200.92 170.8,200.81 170.1,200.78 169.3,201.15 168.6,200.94 167.8,200.74 167.1,200.85 166.3,200.67 165.6,200.98 164.8,201.02 164.1,200.66 163.3,200.69 162.6,201.12 161.8,200.89 161.1,201.27 160.3,200.82 159.6,200.71 158.8,200.91 158.1,200.71 157.3,200.95 156.6,201.33 155.8,200.80 155.1,200.70 154.3,200.82 153.6,200.70 152.8,200.64 152.1,201.03 151.3,200.76 150.6,200.80 149.8,200.63 149.1,201.26 148.3,201.44 147.6,200.98 146.8,200.72 146.1,200.88 145.3,200.74 144.6,200.85 143.8,200.64 143.1,200.85 142.3,200.67 141.6,200.67 140.8,200.84 140.1,200.72 139.3,201.01 138.6,200.96 137.8,200.83 137.1,200.75 136.3,200.82 135.6,200.76 134.8,201.42 134.1,200.85 133.3,200.64 132.6,201.30 131.8,201.11 131.1,201.04 130.3,200.83 129.6,200.68 128.8,200.69 128.1,200.70 127.3,200.71 126.5,201.07 125.8,200.66 125.0,200.82 124.3,200.70 123.5,200.88 122.8,200.85 122.0,200.79 121.3,200.80 120.5,201.37 119.8,200.89 119.0,200.69 118.3,201.04 117.5,200.77 116.8,200.67 116.0,201.05 115.3,200.76 114.5,201.13 113.8,200.74" fill="#ff6060" stroke="#ff6060" stroke-width="1.6" stroke-linejoin="round"/>
<polyline points="113.8,198.85 114.8,198.85 115.8,198.85 116.8,198.85 117.8,198.85 118.8,198.85 119.8,198.85 120.8,198.85 121.8,198.85 122.8,198.84 123.8,198.84 124.8,198.84 125.8,198.84 126.8,198.84 127.8,198.84 128.8,198.84 129.8,198.84 130.8,198.84 131.8,198.84 132.8,198.84 133.8,198.84 134.8,198.84 135.8,198.84 136.8,198.84 137.8,198.84 138.8,198.83 139.8,198.83 140.8,198.83 141.8,198.83 142.8,198.83 143.8,198.83 144.8,198.83 145.8,198.83 146.8,198.83 147.8,198.83 148.8,198.83 149.8,198.83 150.8,198.83 151.8,198.83 152.8,198.83 153.8,198.83 154.8,198.83 155.8,198.82 156.8,198.82 157.8,198.82 158.8,198.82 159.8,198.82 160.8,198.82 161.8,198.82 162.8,198.82 163.8,198.82 164.8,198.82 165.8,198.82 166.8,198.82 167.8,198.82 168.8,198.82 169.8,198.82 170.8,198.82 171.8,198.82 172.8,198.82 173.8,198.81 174.8,198.81 175.8,198.81 176.8,198.81 177.8,198.81 178.8,198.81 179.8,198.81 180.8,198.81 181.8,198.81 182.8,198.81 183.8,198.81 184.8,198.81 185.8,198.81 186.8,198.81 187.8,198.81 188.8,198.81 189.8,198.81 190.8,198.80 191.8,198.80 192.8,198.80 193.8,198.80 194.8,198.80 195.8,198.80 196.8,198.80 197.8,198.80 198.8,198.80 199.8,198.80 200.8,198.80 201.8,198.80 202.8,198.80 203.8,198.80 204.8,198.80 205.8,198.80 206.8,198.80 207.8,198.80 208.8,198.80 209.8,198.80 210.8,198.79 211.8,198.79 212.8,198.79 213.8,198.79 214.8,198.79 215.8,198.79 216.8,198.79 217.8,198.79 218.8,198.79 219.8,198.79 220.8,198.79 221.8,198.79 222.8,198.79 223.8,198.79 224.8,198.79 225.8,198.79 226.8,198.79 227.8,198.79 228.8,198.79 229.8,198.79 230.8,198.79 231.8,198.79 232.8,198.78 233.8,198.78 234.8,198.78 235.8,198.78 236.8,198.78 237.8,198.78 238.8,198.78 239.8,198.78 240.8,198.78 241.8,198.78 242.8,198.78 243.8,198.78 244.8,198.78 245.8,198.78 246.8,198.78 247.8,198.78 248.8,198.78 249.8,198.78 250.8,198.78 251.8,198.78 252.8,198.78 253.8,198.78 254.8,198.78 255.8,198.78 256.8,198.77 257.8,198.77 258.8,198.77 259.8,198.77 260.8,198.77 261.8,198.77 262.8,198.77 263.8,198.77 264.8,198.77 265.8,198.77 266.8,198.77 267.8,198.77 268.8,198.77 269.8,198.77 270.8,198.77 271.8,198.77 272.8,198.77 273.8,198.77 274.8,198.77 275.8,198.77 276.8,198.76 277.8,198.76 278.8,198.76 279.8,198.76 280.8,198.76 281.8,198.76 282.8,198.76 283.8,198.76 284.8,198.76 285.8,198.76 286.8,198.76 287.8,198.76 288.8,198.76 289.8,198.76 290.8,198.76 291.8,198.76 292.8,198.76 293.8,198.75 294.8,198.75 295.8,198.75 296.8,198.75 297.8,198.75 298.8,198.75 299.8,198.75 300.8,198.75 301.8,198.75 302.8,198.75 303.8,198.75 304.8,198.75 305.8,198.75 306.8,198.74 307.8,198.74 308.8,198.74 309.8,198.74 310.8,198.74 311.8,198.74 312.8,198.74 313.8,198.74 314.8,198.74 315.8,198.74 316.8,198.74 317.8,198.73 318.8,198.73 319.8,198.73 320.8,198.73 321.8,198.73 322.8,198.73 323.8,198.73 324.8,198.73 325.8,198.73 326.8,198.72 327.8,198.72 328.8,198.72 329.8,198.72 330.8,198.72 331.8,198.72 332.8,198.72 333.8,198.72 334.8,198.71 335.8,198.71 336.8,198.71 337.8,198.71 338.8,198.71 339.8,198.71 340.8,198.71 341.8,198.70 342.8,198.70 343.8,198.70 344.8,198.70 345.8,198.70 346.8,198.70 347.8,198.70 348.8,198.69 349.8,198.69 350.8,198.69 351.8,198.69 352.8,198.69 353.8,198.69 354.8,198.69 355.8,198.68 356.8,198.68 357.8,198.68 358.8,198.68 359.8,198.68 360.8,198.68 361.8,198.67 362.8,198.67 363.8,198.67 364.8,198.67 365.8,198.67 366.8,198.67 367.8,198.66 368.8,198.66 369.8,198.66 370.8,198.66 371.8,198.66 372.8,198.65 373.8,198.65 374.8,198.65 375.8,198.65 376.8,198.65 377.8,198.65 378.8,198.64 379.8,198.64 380.8,198.64 381.8,198.64 382.8,198.64 383.8,198.63 384.8,198.63 385.8,198.63 386.8,198.63 387.8,198.63 388.8,198.62 389.8,198.62 390.8,198.62 391.8,198.62 392.8,198.62 393.8,198.61 394.8,198.61 395.8,198.61 396.8,198.61 397.8,198.60 398.8,198.60 399.8,198.60 400.8,198.60 401.8,198.60 402.8,198.59 403.8,198.59 404.8,198.59 405.8,198.59 406.8,198.58 407.8,198.58 408.8,198.58 409.8,198.57 410.8,198.57 411.8,198.57 412.8,198.56 413.8,198.56 414.8,198.56 415.8,198.55 416.8,198.55 417.8,198.55 418.8,198.54 419.8,198.54 420.8,198.54 421.8,198.53 422.8,198.53 423.8,198.52 424.8,198.52 425.8,198.52 426.8,198.51 427.8,198.51 428.8,198.50 429.8,198.50 430.8,198.49 431.8,198.49 432.8,198.49 433.8,198.48 434.8,198.48 435.8,198.47 436.8,198.47 437.8,198.46 438.8,198.46 439.8,198.45 440.8,198.45 441.8,198.45 442.8,198.44 443.8,198.44 444.8,198.43 445.8,198.43 446.8,198.42 447.8,198.42 448.8,198.41 449.8,198.41 450.8,198.41 451.8,198.40 452.8,198.40 453.8,198.39 454.8,198.39 455.8,198.38 456.8,198.38 457.8,198.38 458.8,198.37 459.8,198.37 460.8,198.36 461.8,198.36 462.8,198.36 463.8,198.35 464.8,198.35 465.8,198.34 466.8,198.34 467.8,198.34 468.8,198.33 469.8,198.33 470.8,198.33 471.8,198.32 472.8,198.32 473.8,198.32 474.8,198.31 475.8,198.31 476.8,198.31 477.8,198.31 478.8,198.30 479.8,198.30 480.8,198.30 481.8,198.30 482.8,198.29 483.8,198.29 484.8,198.29 485.8,198.28 486.8,198.28 487.8,198.28 488.8,198.28 489.8,198.27 490.8,198.27 491.8,198.27 492.8,198.27 493.8,198.26 494.8,198.26 495.8,198.26 496.8,198.25 497.8,198.25 498.8,198.25 499.8,198.25 500.8,198.24 501.8,198.24 502.8,198.24 503.8,198.24 504.8,198.23 505.8,198.23 506.8,198.23 507.8,198.23 508.8,198.23 509.8,198.22 510.8,198.22 511.8,198.22 512.8,198.22 513.8,198.22 514.8,198.21 515.8,198.21 516.8,198.21 517.8,198.21 518.8,198.21 519.8,198.21 520.8,198.21 521.8,198.20 522.8,198.20 523.8,198.20 524.8,198.20 525.8,198.20 526.8,198.20 527.8,198.20 528.8,198.20 529.8,198.20 530.8,198.20 531.8,198.20 532.8,198.20 533.8,198.20 534.8,198.20 535.8,198.20 536.8,198.20 537.8,198.20 538.8,198.20 539.8,198.20 540.8,198.13 541.8,198.01 542.8,197.84 543.8,197.65 544.8,197.47 545.8,197.29 546.8,197.10 547.8,196.88 548.8,196.65 549.8,196.42 550.8,196.20 551.8,195.99 552.8,195.80 553.8,195.64 554.8,195.49 555.8,195.35 556.8,195.21 557.8,195.08 558.8,194.94 559.8,194.79 560.8,194.63 561.8,194.46 562.8,194.27 563.8,194.08 564.8,193.89 565.8,193.71 566.8,193.54 567.8,193.40 568.8,193.27 569.8,193.14 570.8,193.02 571.8,192.91 572.8,192.81 573.8,192.73 574.8,192.67 575.8,192.63 576.8,192.59 577.8,192.56 578.8,192.53 579.8,192.51 580.8,192.49 581.8,192.47 582.8,192.45 583.8,192.43 584.8,192.41 585.8,192.39 586.8,192.37 587.8,192.35 588.8,192.34 589.8,192.32 590.8,192.30 591.8,192.29 592.8,192.27 593.8,192.26 594.8,192.24 595.8,192.23 596.8,192.22 597.8,192.20 598.8,192.19 599.8,192.18 600.8,192.17 601.8,192.16 602.8,192.14 603.8,192.13 604.8,192.12 605.8,192.11 606.8,192.10 607.8,192.10 608.8,192.09 609.8,192.08 610.8,192.07 611.8,192.06 612.8,192.05 613.8,192.05 614.8,192.04 615.8,192.03 616.8,192.02 617.8,192.02 618.8,192.01 619.8,192.01 620.8,192.00" fill="none" stroke="#ff0000" stroke-width="2.1" stroke-linejoin="round" stroke-linecap="butt"/>
<polygon points="113.8,135.59 114.5,135.52 115.3,136.25 116.0,136.29 116.8,136.40 117.5,136.56 118.3,136.10 119.0,136.72 119.8,136.61 120.5,135.95 121.3,136.96 122.0,137.00 122.8,137.10 123.5,137.06 124.3,137.02 125.0,137.30 125.8,137.35 126.5,137.49 127.3,137.35 128.1,137.65 128.8,137.77 129.6,137.39 130.3,137.76 131.1,137.84 131.8,138.00 132.6,137.96 133.3,137.60 134.1,138.17 134.8,138.24 135.6,138.07 136.3,138.17 137.1,138.41 137.8,138.29 138.6,138.44 139.3,138.65 140.1,138.54 140.8,137.95 141.6,138.55 142.3,138.63 143.1,138.48 143.8,138.96 144.6,138.90 145.3,139.03 146.1,138.91 146.8,139.29 147.6,139.34 148.3,139.00 149.1,139.27 149.8,139.50 150.6,139.30 151.3,139.64 152.1,139.49 152.8,139.66 153.6,139.73 154.3,139.91 155.1,139.81 155.8,140.05 156.6,139.44 157.3,140.05 158.1,140.18 158.8,139.91 159.6,140.45 160.3,140.25 161.1,140.39 161.8,140.07 162.6,140.48 163.3,140.61 164.1,140.54 164.8,140.31 165.6,140.87 166.3,140.99 167.1,140.97 167.8,140.74 168.6,140.92 169.3,141.24 170.1,141.09 170.8,141.05 171.6,141.53 172.3,141.48 173.1,141.14 173.8,141.21 174.6,141.55 175.3,141.61 176.1,141.56 176.8,141.85 177.6,141.83 178.3,141.84 179.1,141.90 179.8,141.79 180.6,141.82 181.3,142.14 182.1,142.28 182.8,142.36 183.6,142.32 184.3,142.18 185.1,142.09 185.8,142.67 186.6,142.36 187.3,142.56 188.1,142.78 188.8,142.81 189.6,142.88 190.3,142.95 191.1,142.84 191.8,142.91 192.6,143.17 193.3,143.23 194.1,143.16 194.8,143.32 195.6,142.69 196.3,143.06 197.1,143.12 197.8,143.02 198.6,143.59 199.3,143.57 200.1,143.66 200.8,143.19 201.6,143.58 202.3,143.68 203.1,143.67 203.8,143.82 204.6,143.93 205.3,144.22 206.1,144.09 206.8,143.73 207.6,144.34 208.3,144.22 209.1,144.46 209.8,144.03 210.6,144.39 211.3,144.25 212.1,144.39 212.8,144.70 213.6,144.57 214.3,144.41 215.1,144.71 215.8,144.87 216.6,144.87 217.3,144.91 218.1,144.90 218.8,144.87 219.6,145.06 220.3,144.51 221.1,145.22 221.8,145.17 222.6,145.03 223.3,145.03 224.1,145.32 224.8,145.26 225.6,145.56 226.3,145.50 227.1,145.61 227.8,145.65 228.6,145.27 229.3,145.63 230.1,145.78 230.8,145.62 231.6,145.75 232.3,145.69 233.1,145.87 233.8,145.75 234.6,145.93 235.3,146.04 236.1,145.88 236.8,145.97 237.6,145.69 238.3,145.61 239.1,146.01 239.8,146.16 240.6,146.30 241.3,146.13 242.1,146.09 242.8,146.14 243.6,146.44 244.3,146.04 245.1,146.47 245.8,146.55 246.6,146.39 247.3,146.50 248.1,146.05 248.8,146.43 249.6,146.12 250.3,146.81 251.1,146.74 251.8,146.84 252.6,146.71 253.3,146.79 254.1,146.89 254.8,147.04 255.6,146.60 256.3,146.92 257.1,146.85 257.8,147.00 258.6,146.95 259.3,147.06 260.1,146.95 260.8,147.30 261.6,147.07 262.3,147.36 263.1,147.26 263.8,146.99 264.6,147.43 265.3,147.48 266.1,147.49 266.8,147.11 267.6,147.40 268.3,147.12 269.1,147.48 269.8,147.69 270.6,147.38 271.3,147.72 272.1,147.51 272.8,147.67 273.6,147.63 274.3,147.77 275.1,147.83 275.8,147.83 276.6,147.83 277.3,147.65 278.1,147.86 278.8,147.30 279.6,147.91 280.3,147.61 281.1,147.64 281.8,147.61 282.6,147.41 283.3,147.95 284.1,147.96 284.8,147.68 285.6,147.83 286.3,147.85 287.1,147.44 287.8,147.88 288.6,147.90 289.3,147.89 290.1,147.53 290.8,147.69 291.6,147.63 292.3,147.48 293.1,147.60 293.8,147.75 294.6,147.57 295.3,147.19 296.1,147.63 296.8,147.36 297.6,147.40 298.3,147.59 299.1,146.89 299.8,147.50 300.6,147.49 301.3,147.34 302.1,147.45 302.8,146.74 303.6,147.23 304.3,147.13 305.1,147.27 305.8,147.10 306.6,146.90 307.3,146.69 308.1,147.15 308.8,147.14 309.6,146.84 310.3,146.87 311.1,146.89 311.8,146.74 312.6,146.78 313.3,146.62 314.1,146.75 314.8,146.93 315.6,146.67 316.3,146.72 317.1,146.85 317.8,146.64 318.6,146.45 319.3,146.75 320.1,146.70 320.8,146.57 321.6,146.20 322.3,146.69 323.1,146.71 323.8,146.68 324.6,146.34 325.3,146.14 326.1,146.56 326.8,146.30 327.6,146.39 328.3,146.18 329.1,146.45 329.8,146.43 330.6,146.52 331.3,146.11 332.1,146.38 332.8,145.99 333.6,146.26 334.3,145.96 335.1,146.48 335.8,146.19 336.6,146.46 337.3,145.79 338.1,146.27 338.8,146.37 339.6,146.07 340.3,145.99 341.1,146.26 341.8,146.16 342.6,145.83 343.3,146.11 344.1,146.03 344.8,146.13 345.6,145.97 346.3,145.76 347.1,146.19 347.8,145.83 348.6,145.75 349.3,146.10 350.1,145.81 350.8,145.96 351.6,145.83 352.3,145.82 353.1,145.81 353.8,145.71 354.6,145.70 355.3,145.36 356.1,145.22 356.8,145.50 357.6,145.26 358.3,145.26 359.1,145.30 359.8,145.42 360.6,144.54 361.3,145.09 362.1,145.14 362.8,145.06 363.6,145.15 364.3,145.01 365.1,144.85 365.8,144.90 366.6,144.17 367.3,144.80 368.1,144.80 368.8,144.48 369.6,144.67 370.3,144.43 371.1,144.24 371.8,144.30 372.6,144.47 373.3,144.00 374.1,144.31 374.8,144.22 375.6,144.11 376.3,143.78 377.1,143.69 377.8,143.64 378.6,143.55 379.3,142.92 380.1,143.40 380.8,143.12 381.6,143.05 382.3,143.03 383.1,142.95 383.8,142.87 384.6,142.44 385.3,142.47 386.1,142.51 386.8,141.65 387.6,142.02 388.3,141.71 389.1,141.84 389.8,141.72 390.6,141.44 391.3,141.51 392.1,141.50 392.8,141.08 393.6,141.11 394.3,141.10 395.1,140.82 395.8,140.72 396.6,140.26 397.3,140.52 398.1,140.47 398.8,140.20 399.6,140.14 400.3,139.81 401.1,139.83 401.8,139.44 402.6,139.43 403.3,139.05 404.1,139.05 404.8,139.13 405.6,138.42 406.3,138.75 407.1,138.45 407.8,138.49 408.6,138.21 409.3,138.08 410.1,137.94 410.8,137.62 411.6,137.33 412.3,137.54 413.1,137.29 413.8,136.89 414.6,137.10 415.3,136.58 416.1,136.75 416.8,136.56 417.6,136.25 418.3,136.15 419.1,136.18 419.8,136.11 420.6,135.87 421.3,135.91 422.1,135.69 422.8,135.54 423.6,135.16 424.3,135.38 425.1,134.68 425.8,134.51 426.6,134.76 427.3,134.52 428.1,134.57 428.8,134.40 429.6,134.18 430.3,134.11 431.1,133.99 431.8,133.99 432.6,133.61 433.3,133.41 434.1,133.65 434.8,133.55 435.6,133.40 436.3,133.05 437.1,132.95 437.8,132.78 438.6,133.06 439.3,132.68 440.1,132.76 440.8,132.83 441.6,132.63 442.3,132.38 443.1,132.39 443.8,132.03 444.6,132.34 445.3,131.97 446.1,132.01 446.8,132.16 447.6,132.19 448.3,132.05 449.1,132.13 449.8,132.10 450.6,132.20 451.3,132.19 452.1,131.86 452.8,131.94 453.6,132.00 454.3,131.97 455.1,131.77 455.8,131.81 456.6,131.72 457.3,132.09 458.1,132.05 458.8,131.85 459.6,132.00 460.3,131.88 461.1,131.92 461.8,131.94 462.6,132.15 463.3,132.16 464.1,131.69 464.8,131.46 465.6,132.23 466.3,132.27 467.1,131.62 467.8,132.26 468.6,132.35 469.3,132.07 470.1,132.19 470.8,131.99 471.6,132.44 472.3,132.50 473.1,132.21 473.8,132.38 474.6,132.36 475.3,132.31 476.1,132.35 476.8,132.64 477.6,132.86 478.3,132.55 479.1,132.88 479.8,132.99 480.6,133.03 481.3,132.88 482.1,133.07 482.8,132.71 483.6,132.89 484.3,133.16 485.1,133.10 485.8,133.09 486.6,133.34 487.3,133.25 488.1,133.43 488.8,133.74 489.6,133.36 490.3,133.89 491.1,133.84 491.8,133.98 492.6,133.65 493.3,134.17 494.1,134.20 494.8,134.25 495.6,134.27 496.3,134.41 497.1,134.51 497.8,134.48 498.6,134.04 499.3,134.54 500.1,134.70 500.8,134.70 501.6,134.61 502.3,134.50 503.1,134.70 503.8,134.94 504.6,134.83 505.3,135.03 506.1,134.94 506.8,134.88 507.6,135.03 508.3,134.80 509.1,135.19 509.8,135.28 510.6,135.25 511.3,135.15 512.0,135.39 512.8,135.46 513.5,135.50 514.3,135.63 515.0,135.32 515.8,135.40 516.5,135.28 517.3,135.76 518.0,135.77 518.8,135.86 519.5,135.75 520.3,135.59 521.0,135.60 521.8,136.00 522.5,135.81 523.3,136.21 524.0,136.16 524.8,136.28 525.5,136.09 526.3,136.14 527.0,136.33 527.8,136.33 528.5,136.00 529.3,136.17 530.0,136.44 530.8,136.66 531.5,136.38 532.3,136.52 533.0,136.86 533.8,136.47 534.5,136.83 535.3,136.64 536.0,136.52 536.8,137.44 537.5,137.69 538.3,138.14 539.0,138.49 539.8,138.69 540.5,138.97 541.3,139.57 542.0,139.82 542.8,140.37 543.5,140.84 544.3,141.24 545.0,141.72 545.8,142.23 546.5,142.47 547.3,142.60 548.0,143.66 548.8,143.75 549.5,144.77 550.3,145.30 551.0,145.61 551.8,146.11 552.5,146.69 553.3,147.15 554.0,147.41 554.8,147.82 555.5,148.16 556.3,148.77 557.0,149.02 557.8,149.55 558.5,150.17 559.3,150.86 560.0,151.48 560.8,152.28 561.5,152.95 562.3,153.40 563.0,153.53 563.8,154.08 564.5,154.16 565.3,154.34 566.0,154.62 566.8,154.62 567.5,154.73 568.3,154.74 569.0,155.12 569.8,155.25 570.5,155.03 571.3,155.45 572.0,155.41 572.8,155.18 573.5,155.44 574.3,155.38 575.0,155.86 575.8,155.90 576.5,155.40 577.3,155.84 578.0,156.03 578.8,156.38 579.5,156.43 580.3,156.53 581.0,155.96 581.8,156.54 582.5,156.67 583.3,156.91 584.0,157.02 584.8,156.89 585.5,157.15 586.3,157.08 587.0,157.24 587.8,157.06 588.5,157.46 589.3,157.21 590.0,157.61 590.8,157.59 591.5,157.36 592.3,157.63 593.0,157.63 593.8,157.84 594.5,157.91 595.3,157.73 596.0,157.90 596.8,157.88 597.5,158.20 598.3,158.29 599.0,158.22 599.8,158.26 600.5,158.02 601.3,158.14 602.0,158.47 602.8,158.31 603.5,158.39 604.3,158.62 605.0,158.65 605.8,158.66 606.5,158.27 607.3,158.52 608.0,158.50 608.8,158.91 609.5,158.82 610.3,158.59 611.0,158.98 611.8,158.51 612.5,159.02 613.3,159.01 614.0,158.80 614.8,159.04 615.5,159.11 616.3,159.25 617.0,159.18 617.8,159.19 618.5,159.42 619.3,159.21 620.0,158.71 620.8,159.22 621.5,158.80 622.3,159.45 622.3,163.73 621.5,163.20 620.8,163.41 620.0,163.17 619.3,163.20 618.5,163.12 617.8,163.25 617.0,163.06 616.3,163.05 615.5,162.97 614.8,163.25 614.0,163.05 613.3,162.90 612.5,163.17 611.8,162.90 611.0,162.73 610.3,162.75 609.5,162.76 608.8,162.68 608.0,162.58 607.3,162.56 606.5,162.60 605.8,162.54 605.0,162.53 604.3,162.26 603.5,162.47 602.8,162.51 602.0,162.15 601.3,162.54 600.5,162.22 599.8,162.28 599.0,161.97 598.3,161.90 597.5,162.64 596.8,161.93 596.0,161.76 595.3,162.14 594.5,161.72 593.8,161.81 593.0,161.78 592.3,161.92 591.5,161.46 590.8,161.57 590.0,161.61 589.3,161.46 588.5,161.41 587.8,161.39 587.0,161.19 586.3,160.93 585.5,161.12 584.8,160.91 584.0,160.81 583.3,160.64 582.5,160.84 581.8,160.64 581.0,160.55 580.3,160.77 579.5,160.11 578.8,160.17 578.0,160.35 577.3,159.98 576.5,160.10 575.8,159.75 575.0,159.82 574.3,159.67 573.5,159.73 572.8,159.39 572.0,159.42 571.3,159.35 570.5,159.44 569.8,159.25 569.0,159.09 568.3,159.19 567.5,159.04 566.8,159.01 566.0,158.54 565.3,158.39 564.5,158.02 563.8,157.82 563.0,157.68 562.3,157.36 561.5,156.57 560.8,156.11 560.0,155.53 559.3,155.04 558.5,154.44 557.8,153.56 557.0,153.11 556.3,152.83 555.5,152.63 554.8,152.14 554.0,151.43 553.3,151.15 552.5,150.66 551.8,150.04 551.0,149.54 550.3,149.20 549.5,148.77 548.8,148.58 548.0,147.78 547.3,147.00 546.5,146.47 545.8,146.45 545.0,145.66 544.3,145.23 543.5,144.65 542.8,144.24 542.0,143.76 541.3,143.33 540.5,143.18 539.8,143.19 539.0,142.20 538.3,142.09 537.5,141.71 536.8,141.36 536.0,141.82 535.3,141.34 534.5,140.94 533.8,140.63 533.0,140.68 532.3,140.70 531.5,140.64 530.8,140.28 530.0,140.35 529.3,140.79 528.5,140.29 527.8,140.44 527.0,140.04 526.3,140.22 525.5,140.42 524.8,140.24 524.0,140.13 523.3,140.14 522.5,139.82 521.8,139.83 521.0,139.92 520.3,139.88 519.5,139.76 518.8,139.54 518.0,139.67 517.3,139.83 516.5,139.50 515.8,139.83 515.0,139.50 514.3,139.33 513.5,139.31 512.8,139.22 512.0,139.31 511.3,139.17 510.6,139.31 509.8,139.02 509.1,139.23 508.3,138.94 507.6,138.91 506.8,139.11 506.1,139.20 505.3,138.69 504.6,138.99 503.8,139.10 503.1,138.68 502.3,138.74 501.6,138.45 500.8,138.49 500.1,138.54 499.3,138.60 498.6,138.67 497.8,138.31 497.1,138.19 496.3,138.21 495.6,138.00 494.8,138.16 494.1,138.01 493.3,137.86 492.6,137.98 491.8,138.02 491.1,137.85 490.3,137.61 489.6,137.61 488.8,137.45 488.1,137.38 487.3,137.24 486.6,137.29 485.8,137.39 485.1,137.38 484.3,137.19 483.6,137.52 482.8,137.00 482.1,136.79 481.3,137.09 480.6,136.74 479.8,136.74 479.1,136.83 478.3,136.56 477.6,136.73 476.8,136.56 476.1,136.54 475.3,136.46 474.6,136.74 473.8,136.44 473.1,136.59 472.3,136.47 471.6,136.27 470.8,136.40 470.1,136.14 469.3,136.44 468.6,136.54 467.8,136.09 467.1,136.06 466.3,136.04 465.6,136.24 464.8,135.88 464.1,135.98 463.3,135.88 462.6,136.21 461.8,136.18 461.1,136.03 460.3,136.37 459.6,136.04 458.8,136.12 458.1,135.75 457.3,135.80 456.6,135.75 455.8,136.02 455.1,135.77 454.3,136.16 453.6,135.89 452.8,136.21 452.1,135.81 451.3,135.95 450.6,135.89 449.8,136.20 449.1,135.99 448.3,136.17 447.6,136.21 446.8,136.33 446.1,136.30 445.3,136.28 444.6,136.36 443.8,136.51 443.1,136.24 442.3,136.50 441.6,136.68 440.8,136.85 440.1,136.77 439.3,137.21 438.6,136.89 437.8,137.12 437.1,137.02 436.3,136.99 435.6,137.21 434.8,137.46 434.1,137.29 433.3,137.79 432.6,138.13 431.8,137.75 431.1,138.16 430.3,138.27 429.6,138.47 428.8,138.36 428.1,138.55 427.3,138.45 426.6,138.59 425.8,139.04 425.1,139.02 424.3,139.26 423.6,139.43 422.8,139.58 422.1,139.66 421.3,140.05 420.6,139.93 419.8,140.07 419.1,140.20 418.3,140.48 417.6,140.60 416.8,140.40 416.1,140.85 415.3,140.66 414.6,141.03 413.8,140.98 413.1,141.04 412.3,141.83 411.6,141.35 410.8,141.66 410.1,141.86 409.3,142.27 408.6,142.31 407.8,142.57 407.1,142.64 406.3,142.65 405.6,143.05 404.8,143.04 404.1,143.15 403.3,143.25 402.6,143.27 401.8,143.64 401.1,143.61 400.3,143.94 399.6,143.92 398.8,144.36 398.1,144.16 397.3,144.57 396.6,144.79 395.8,144.66 395.1,144.89 394.3,145.24 393.6,145.20 392.8,145.39 392.1,145.56 391.3,145.41 390.6,145.91 389.8,146.02 389.1,145.98 388.3,145.86 387.6,145.92 386.8,146.20 386.1,146.17 385.3,146.34 384.6,146.52 383.8,146.63 383.1,146.98 382.3,147.16 381.6,146.89 380.8,147.14 380.1,147.19 379.3,147.48 378.6,147.59 377.8,147.51 377.1,148.19 376.3,147.86 375.6,147.86 374.8,147.86 374.1,148.08 373.3,148.24 372.6,148.46 371.8,148.42 371.1,148.35 370.3,148.49 369.6,148.81 368.8,148.89 368.1,148.77 367.3,148.77 366.6,148.82 365.8,148.75 365.1,149.17 364.3,148.99 363.6,148.94 362.8,148.97 362.1,149.26 361.3,148.99 360.6,149.04 359.8,149.31 359.1,149.26 358.3,149.52 357.6,149.88 356.8,149.54 356.1,149.56 355.3,149.59 354.6,149.71 353.8,150.31 353.1,149.59 352.3,149.82 351.6,149.86 350.8,149.76 350.1,149.92 349.3,150.67 348.6,150.33 347.8,149.93 347.1,149.82 346.3,149.94 345.6,149.94 344.8,150.30 344.1,150.17 343.3,150.01 342.6,150.25 341.8,150.18 341.1,150.16 340.3,150.14 339.6,150.05 338.8,150.66 338.1,150.31 337.3,150.07 336.6,150.28 335.8,150.23 335.1,150.28 334.3,150.25 333.6,150.28 332.8,150.27 332.1,150.55 331.3,150.40 330.6,150.48 329.8,150.75 329.1,150.41 328.3,150.40 327.6,150.28 326.8,150.80 326.1,150.68 325.3,150.49 324.6,150.35 323.8,150.42 323.1,150.83 322.3,150.72 321.6,150.68 320.8,150.41 320.1,150.47 319.3,150.50 318.6,150.67 317.8,150.70 317.1,150.49 316.3,150.78 315.6,150.73 314.8,150.82 314.1,150.62 313.3,150.67 312.6,150.73 311.8,150.83 311.1,151.05 310.3,150.75 309.6,151.51 308.8,151.23 308.1,151.31 307.3,151.23 306.6,150.91 305.8,150.94 305.1,150.97 304.3,150.97 303.6,151.15 302.8,151.26 302.1,151.23 301.3,151.42 300.6,151.40 299.8,151.21 299.1,151.72 298.3,151.52 297.6,151.42 296.8,152.16 296.1,151.73 295.3,151.51 294.6,151.50 293.8,151.38 293.1,151.68 292.3,152.06 291.6,151.62 290.8,151.70 290.1,151.78 289.3,151.59 288.6,151.87 287.8,151.57 287.1,152.07 286.3,151.90 285.6,151.74 284.8,151.84 284.1,151.76 283.3,152.04 282.6,151.96 281.8,151.87 281.1,151.90 280.3,152.03 279.6,151.62 278.8,152.03 278.1,151.54 277.3,151.80 276.6,151.71 275.8,151.70 275.1,151.49 274.3,151.78 273.6,151.59 272.8,151.64 272.1,151.90 271.3,151.78 270.6,151.63 269.8,151.60 269.1,151.50 268.3,151.26 267.6,151.60 266.8,151.37 266.1,151.35 265.3,151.31 264.6,151.35 263.8,151.27 263.1,151.10 262.3,151.43 261.6,151.18 260.8,150.97 260.1,151.13 259.3,151.28 258.6,150.98 257.8,151.06 257.1,150.81 256.3,151.08 255.6,150.71 254.8,151.30 254.1,151.00 253.3,150.73 252.6,150.95 251.8,150.57 251.1,150.48 250.3,150.66 249.6,150.44 248.8,150.38 248.1,150.46 247.3,150.70 246.6,150.40 245.8,150.20 245.1,150.45 244.3,150.49 243.6,150.30 242.8,150.34 242.1,150.14 241.3,150.20 240.6,150.20 239.8,149.92 239.1,150.32 238.3,150.26 237.6,149.95 236.8,149.92 236.1,149.95 235.3,149.70 234.6,149.68 233.8,150.19 233.1,149.74 232.3,149.98 231.6,149.99 230.8,149.65 230.1,149.86 229.3,149.69 228.6,149.38 227.8,149.78 227.1,149.44 226.3,149.51 225.6,149.20 224.8,149.56 224.1,149.54 223.3,149.06 222.6,149.63 221.8,149.11 221.1,149.39 220.3,148.91 219.6,149.35 218.8,149.07 218.1,149.05 217.3,148.67 216.6,148.89 215.8,148.69 215.1,148.83 214.3,148.69 213.6,148.69 212.8,148.64 212.1,148.53 211.3,148.70 210.6,148.29 209.8,148.37 209.1,148.38 208.3,148.27 207.6,148.35 206.8,147.96 206.1,148.00 205.3,147.91 204.6,147.99 203.8,147.79 203.1,148.15 202.3,147.83 201.6,148.44 200.8,148.03 200.1,147.43 199.3,147.40 198.6,147.35 197.8,147.38 197.1,147.24 196.3,147.28 195.6,147.06 194.8,147.05 194.1,147.39 193.3,147.19 192.6,147.19 191.8,147.25 191.1,147.07 190.3,146.80 189.6,146.66 188.8,146.71 188.1,146.48 187.3,146.90 186.6,146.39 185.8,146.45 185.1,146.52 184.3,146.21 183.6,146.69 182.8,146.11 182.1,146.26 181.3,146.28 180.6,146.04 179.8,145.93 179.1,146.23 178.3,145.84 177.6,145.76 176.8,146.05 176.1,145.52 175.3,145.98 174.6,145.63 173.8,145.39 173.1,145.27 172.3,145.39 171.6,145.22 170.8,145.55 170.1,145.05 169.3,145.11 168.6,144.99 167.8,145.27 167.1,144.91 166.3,145.16 165.6,144.64 164.8,144.88 164.1,144.94 163.3,144.42 162.6,144.66 161.8,144.54 161.1,144.47 160.3,144.17 159.6,144.20 158.8,144.07 158.1,144.17 157.3,143.97 156.6,143.94 155.8,143.88 155.1,143.74 154.3,143.85 153.6,143.65 152.8,143.56 152.1,143.38 151.3,143.50 150.6,143.65 149.8,143.43 149.1,143.41 148.3,143.07 147.6,143.04 146.8,143.28 146.1,143.24 145.3,143.12 144.6,142.78 143.8,142.69 143.1,143.21 142.3,142.63 141.6,143.33 140.8,142.93 140.1,142.86 139.3,142.29 138.6,142.32 137.8,142.32 137.1,142.60 136.3,142.42 135.6,142.02 134.8,141.97 134.1,141.95 133.3,142.33 132.6,141.86 131.8,142.06 131.1,141.70 130.3,141.56 129.6,141.47 128.8,142.03 128.1,141.53 127.3,141.28 126.5,141.18 125.8,141.62 125.0,141.40 124.3,141.02 123.5,141.04 122.8,141.03 122.0,140.82 121.3,141.05 120.5,140.72 119.8,140.49 119.0,140.65 118.3,140.37 117.5,140.65 116.8,140.16 116.0,140.22 115.3,140.49 114.5,140.29 113.8,139.90" fill="#58ff58" stroke="#58ff58" stroke-width="1.6" stroke-linejoin="round"/>
<polyline points="113.8,138.00 114.8,138.11 115.8,138.23 116.8,138.34 117.8,138.45 118.8,138.56 119.8,138.67 120.8,138.78 121.8,138.88 122.8,138.99 123.8,139.09 124.8,139.19 125.8,139.29 126.8,139.39 127.8,139.49 128.8,139.58 129.8,139.67 130.8,139.77 131.8,139.85 132.8,139.94 133.8,140.03 134.8,140.11 135.8,140.19 136.8,140.28 137.8,140.36 138.8,140.44 139.8,140.52 140.8,140.60 141.8,140.68 142.8,140.76 143.8,140.84 144.8,140.93 145.8,141.01 146.8,141.10 147.8,141.18 148.8,141.27 149.8,141.36 150.8,141.45 151.8,141.54 152.8,141.64 153.8,141.73 154.8,141.82 155.8,141.92 156.8,142.01 157.8,142.11 158.8,142.20 159.8,142.30 160.8,142.39 161.8,142.48 162.8,142.58 163.8,142.67 164.8,142.76 165.8,142.85 166.8,142.93 167.8,143.02 168.8,143.10 169.8,143.19 170.8,143.27 171.8,143.35 172.8,143.44 173.8,143.52 174.8,143.60 175.8,143.68 176.8,143.76 177.8,143.84 178.8,143.92 179.8,144.00 180.8,144.07 181.8,144.15 182.8,144.23 183.8,144.31 184.8,144.39 185.8,144.47 186.8,144.55 187.8,144.63 188.8,144.70 189.8,144.78 190.8,144.86 191.8,144.94 192.8,145.03 193.8,145.11 194.8,145.19 195.8,145.27 196.8,145.35 197.8,145.43 198.8,145.52 199.8,145.60 200.8,145.68 201.8,145.76 202.8,145.84 203.8,145.91 204.8,145.99 205.8,146.07 206.8,146.14 207.8,146.21 208.8,146.29 209.8,146.36 210.8,146.43 211.8,146.49 212.8,146.56 213.8,146.63 214.8,146.69 215.8,146.76 216.8,146.83 217.8,146.89 218.8,146.95 219.8,147.02 220.8,147.08 221.8,147.14 222.8,147.20 223.8,147.26 224.8,147.32 225.8,147.38 226.8,147.43 227.8,147.49 228.8,147.54 229.8,147.60 230.8,147.65 231.8,147.71 232.8,147.76 233.8,147.81 234.8,147.86 235.8,147.91 236.8,147.96 237.8,148.01 238.8,148.06 239.8,148.11 240.8,148.15 241.8,148.20 242.8,148.25 243.8,148.30 244.8,148.35 245.8,148.39 246.8,148.44 247.8,148.49 248.8,148.54 249.8,148.59 250.8,148.64 251.8,148.69 252.8,148.74 253.8,148.79 254.8,148.84 255.8,148.90 256.8,148.95 257.8,149.00 258.8,149.05 259.8,149.10 260.8,149.14 261.8,149.19 262.8,149.23 263.8,149.28 264.8,149.32 265.8,149.36 266.8,149.40 267.8,149.43 268.8,149.46 269.8,149.49 270.8,149.52 271.8,149.55 272.8,149.58 273.8,149.61 274.8,149.64 275.8,149.67 276.8,149.69 277.8,149.72 278.8,149.74 279.8,149.76 280.8,149.77 281.8,149.79 282.8,149.80 283.8,149.80 284.8,149.80 285.8,149.79 286.8,149.78 287.8,149.76 288.8,149.74 289.8,149.71 290.8,149.68 291.8,149.65 292.8,149.61 293.8,149.57 294.8,149.54 295.8,149.50 296.8,149.46 297.8,149.42 298.8,149.39 299.8,149.35 300.8,149.31 301.8,149.27 302.8,149.23 303.8,149.18 304.8,149.13 305.8,149.09 306.8,149.04 307.8,148.99 308.8,148.95 309.8,148.91 310.8,148.87 311.8,148.83 312.8,148.80 313.8,148.77 314.8,148.74 315.8,148.71 316.8,148.68 317.8,148.66 318.8,148.63 319.8,148.61 320.8,148.59 321.8,148.56 322.8,148.54 323.8,148.52 324.8,148.50 325.8,148.48 326.8,148.45 327.8,148.43 328.8,148.41 329.8,148.39 330.8,148.38 331.8,148.36 332.8,148.34 333.8,148.32 334.8,148.31 335.8,148.29 336.8,148.27 337.8,148.25 338.8,148.23 339.8,148.20 340.8,148.18 341.8,148.15 342.8,148.13 343.8,148.10 344.8,148.07 345.8,148.04 346.8,148.00 347.8,147.97 348.8,147.93 349.8,147.89 350.8,147.84 351.8,147.78 352.8,147.72 353.8,147.65 354.8,147.58 355.8,147.51 356.8,147.44 357.8,147.38 358.8,147.31 359.8,147.25 360.8,147.20 361.8,147.15 362.8,147.10 363.8,147.04 364.8,146.99 365.8,146.93 366.8,146.87 367.8,146.80 368.8,146.73 369.8,146.64 370.8,146.53 371.8,146.42 372.8,146.30 373.8,146.17 374.8,146.04 375.8,145.90 376.8,145.77 377.8,145.63 378.8,145.49 379.8,145.34 380.8,145.19 381.8,145.03 382.8,144.87 383.8,144.71 384.8,144.54 385.8,144.38 386.8,144.21 387.8,144.05 388.8,143.89 389.8,143.73 390.8,143.56 391.8,143.40 392.8,143.23 393.8,143.06 394.8,142.89 395.8,142.72 396.8,142.54 397.8,142.35 398.8,142.16 399.8,141.96 400.8,141.76 401.8,141.56 402.8,141.36 403.8,141.15 404.8,140.94 405.8,140.74 406.8,140.54 407.8,140.33 408.8,140.12 409.8,139.91 410.8,139.70 411.8,139.49 412.8,139.29 413.8,139.09 414.8,138.91 415.8,138.73 416.8,138.58 417.8,138.44 418.8,138.31 419.8,138.15 420.8,137.97 421.8,137.78 422.8,137.57 423.8,137.36 424.8,137.14 425.8,136.92 426.8,136.72 427.8,136.52 428.8,136.33 429.8,136.16 430.8,136.00 431.8,135.83 432.8,135.67 433.8,135.52 434.8,135.37 435.8,135.23 436.8,135.10 437.8,134.98 438.8,134.87 439.8,134.76 440.8,134.65 441.8,134.55 442.8,134.45 443.8,134.36 444.8,134.28 445.8,134.21 446.8,134.15 447.8,134.11 448.8,134.07 449.8,134.04 450.8,134.01 451.8,133.98 452.8,133.96 453.8,133.94 454.8,133.92 455.8,133.91 456.8,133.90 457.8,133.90 458.8,133.91 459.8,133.92 460.8,133.93 461.8,133.95 462.8,133.98 463.8,134.00 464.8,134.03 465.8,134.06 466.8,134.09 467.8,134.13 468.8,134.17 469.8,134.21 470.8,134.26 471.8,134.32 472.8,134.37 473.8,134.43 474.8,134.49 475.8,134.56 476.8,134.62 477.8,134.68 478.8,134.75 479.8,134.82 480.8,134.89 481.8,134.96 482.8,135.04 483.8,135.12 484.8,135.20 485.8,135.28 486.8,135.37 487.8,135.47 488.8,135.57 489.8,135.67 490.8,135.77 491.8,135.88 492.8,135.97 493.8,136.06 494.8,136.14 495.8,136.22 496.8,136.29 497.8,136.36 498.8,136.43 499.8,136.50 500.8,136.56 501.8,136.63 502.8,136.69 503.8,136.75 504.8,136.81 505.8,136.88 506.8,136.94 507.8,137.00 508.8,137.07 509.8,137.14 510.8,137.20 511.8,137.27 512.8,137.34 513.8,137.40 514.8,137.47 515.8,137.54 516.8,137.60 517.8,137.67 518.8,137.74 519.8,137.80 520.8,137.87 521.8,137.94 522.8,138.00 523.8,138.07 524.8,138.12 525.8,138.17 526.8,138.22 527.8,138.28 528.8,138.33 529.8,138.40 530.8,138.47 531.8,138.56 532.8,138.66 533.8,138.78 534.8,138.98 535.8,139.24 536.8,139.55 537.8,139.90 538.8,140.26 539.8,140.67 540.8,141.16 541.8,141.71 542.8,142.31 543.8,142.91 544.8,143.52 545.8,144.16 546.8,144.83 547.8,145.51 548.8,146.20 549.8,146.87 550.8,147.55 551.8,148.24 552.8,148.88 553.8,149.46 554.8,149.95 555.8,150.40 556.8,150.90 557.8,151.56 558.8,152.44 559.8,153.36 560.8,154.17 561.8,154.94 562.8,155.58 563.8,155.96 564.8,156.24 565.8,156.46 566.8,156.65 567.8,156.81 568.8,156.97 569.8,157.12 570.8,157.26 571.8,157.39 572.8,157.51 573.8,157.62 574.8,157.73 575.8,157.84 576.8,157.95 577.8,158.07 578.8,158.19 579.8,158.31 580.8,158.44 581.8,158.57 582.8,158.70 583.8,158.82 584.8,158.95 585.8,159.07 586.8,159.18 587.8,159.28 588.8,159.38 589.8,159.47 590.8,159.55 591.8,159.63 592.8,159.71 593.8,159.79 594.8,159.86 595.8,159.93 596.8,160.00 597.8,160.07 598.8,160.13 599.8,160.19 600.8,160.25 601.8,160.31 602.8,160.36 603.8,160.42 604.8,160.47 605.8,160.53 606.8,160.59 607.8,160.65 608.8,160.72 609.8,160.79 610.8,160.87 611.8,160.94 612.8,161.01 613.8,161.07 614.8,161.13 615.8,161.18 616.8,161.21 617.8,161.24 618.8,161.26 619.8,161.28 620.8,161.30" fill="none" stroke="#00ff00" stroke-width="2.1" stroke-linejoin="round" stroke-linecap="butt"/>
<polygon points="113.8,171.50 114.5,171.72 115.3,171.35 116.0,171.73 116.8,171.51 117.5,172.07 118.3,171.96 119.0,172.18 119.8,171.82 120.5,172.30 121.3,172.38 122.0,172.05 122.8,172.50 123.5,172.52 124.3,172.29 125.0,172.14 125.8,172.31 126.5,172.63 127.3,172.94 128.1,172.84 128.8,172.98 129.6,173.05 130.3,173.21 131.1,173.37 131.8,173.03 132.6,172.99 133.3,173.61 134.1,173.42 134.8,173.53 135.6,173.19 136.3,173.80 137.1,173.91 137.8,173.60 138.6,173.82 139.3,174.13 140.1,173.96 140.8,174.04 141.6,174.11 142.3,174.23 143.1,174.48 143.8,174.39 144.6,174.43 145.3,174.54 146.1,174.64 146.8,174.65 147.6,174.78 148.3,174.96 149.1,175.06 149.8,174.55 150.6,175.08 151.3,175.21 152.1,175.23 152.8,175.15 153.6,175.39 154.3,175.56 155.1,175.40 155.8,175.30 156.6,175.35 157.3,175.72 158.1,175.84 158.8,175.70 159.6,175.83 160.3,175.77 161.1,176.11 161.8,176.22 162.6,176.20 163.3,176.06 164.1,176.06 164.8,176.26 165.6,176.19 166.3,176.02 167.1,176.66 167.8,176.42 168.6,176.29 169.3,176.83 170.1,176.68 170.8,176.83 171.6,177.08 172.3,176.73 173.1,176.74 173.8,177.10 174.6,177.45 175.3,177.32 176.1,176.91 176.8,177.41 177.6,177.50 178.3,177.70 179.1,177.92 179.8,177.60 180.6,177.68 181.3,177.97 182.1,177.92 182.8,178.35 183.6,178.22 184.3,178.13 185.1,178.53 185.8,178.60 186.6,178.37 187.3,178.63 188.1,178.83 188.8,178.88 189.6,178.93 190.3,178.70 191.1,178.84 191.8,179.01 192.6,178.93 193.3,179.05 194.1,179.10 194.8,178.87 195.6,178.93 196.3,179.35 197.1,179.37 197.8,179.29 198.6,179.52 199.3,179.51 200.1,179.29 200.8,179.69 201.6,179.54 202.3,179.77 203.1,179.49 203.8,179.60 204.6,180.15 205.3,180.30 206.1,179.74 206.8,179.88 207.6,180.59 208.3,180.53 209.1,180.48 209.8,180.39 210.6,180.94 211.3,181.03 212.1,180.80 212.8,181.17 213.6,181.12 214.3,181.24 215.1,181.17 215.8,181.33 216.6,180.86 217.3,181.64 218.1,181.37 218.8,181.49 219.6,181.49 220.3,181.61 221.1,181.94 221.8,181.99 222.6,182.01 223.3,181.82 224.1,182.02 224.8,182.12 225.6,181.98 226.3,181.94 227.1,181.97 227.8,181.95 228.6,181.97 229.3,182.15 230.1,182.09 230.8,182.19 231.6,182.16 232.3,182.12 233.1,182.03 233.8,182.00 234.6,182.14 235.3,181.91 236.1,182.16 236.8,181.58 237.6,182.01 238.3,181.08 239.1,181.71 239.8,181.20 240.6,181.54 241.3,181.25 242.1,180.97 242.8,180.68 243.6,180.63 244.3,180.58 245.1,180.50 245.8,180.03 246.6,180.04 247.3,179.74 248.1,179.70 248.8,179.70 249.6,179.55 250.3,179.18 251.1,179.24 251.8,178.20 252.6,178.45 253.3,178.45 254.1,178.56 254.8,178.33 255.6,178.22 256.3,177.74 257.1,177.88 257.8,177.75 258.6,177.56 259.3,177.24 260.1,177.16 260.8,176.88 261.6,176.66 262.3,176.76 263.1,176.76 263.8,176.36 264.6,176.28 265.3,175.88 266.1,175.76 266.8,175.78 267.6,175.39 268.3,175.85 269.1,175.73 269.8,175.33 270.6,175.14 271.3,175.37 272.1,174.97 272.8,174.88 273.6,174.40 274.3,174.33 275.1,173.79 275.8,174.03 276.6,173.75 277.3,173.39 278.1,173.24 278.8,172.55 279.6,172.22 280.3,172.52 281.1,172.42 281.8,171.92 282.6,171.85 283.3,171.87 284.1,171.65 284.8,171.47 285.6,171.28 286.3,170.94 287.1,170.49 287.8,170.40 288.6,170.18 289.3,170.07 290.1,169.95 290.8,169.50 291.6,169.46 292.3,169.36 293.1,168.67 293.8,168.76 294.6,168.83 295.3,168.35 296.1,168.35 296.8,168.45 297.6,168.37 298.3,168.00 299.1,168.27 299.8,168.23 300.6,168.21 301.3,167.97 302.1,167.92 302.8,167.63 303.6,168.24 304.3,167.96 305.1,168.28 305.8,168.41 306.6,168.71 307.3,168.38 308.1,168.87 308.8,169.09 309.6,169.16 310.3,169.34 311.1,169.50 311.8,169.63 312.6,169.57 313.3,169.13 314.1,170.04 314.8,169.89 315.6,169.95 316.3,170.04 317.1,170.36 317.8,170.37 318.6,170.13 319.3,170.06 320.1,170.12 320.8,169.77 321.6,169.91 322.3,169.81 323.1,169.74 323.8,169.82 324.6,169.73 325.3,169.24 326.1,169.51 326.8,169.55 327.6,169.20 328.3,169.09 329.1,169.32 329.8,168.98 330.6,168.92 331.3,168.79 332.1,168.67 332.8,168.00 333.6,168.25 334.3,168.17 335.1,168.43 335.8,168.27 336.6,168.16 337.3,167.40 338.1,167.38 338.8,167.48 339.6,167.02 340.3,166.77 341.1,166.14 341.8,165.55 342.6,165.40 343.3,165.02 344.1,164.91 344.8,164.41 345.6,164.40 346.3,164.12 347.1,163.31 347.8,163.00 348.6,162.42 349.3,162.33 350.1,161.62 350.8,161.22 351.6,160.81 352.3,160.37 353.1,159.80 353.8,159.70 354.6,158.86 355.3,158.70 356.1,158.46 356.8,157.79 357.6,157.33 358.3,156.84 359.1,156.25 359.8,155.67 360.6,155.29 361.3,154.44 362.1,153.69 362.8,153.48 363.6,152.79 364.3,151.96 365.1,151.44 365.8,150.88 366.6,150.15 367.3,149.16 368.1,148.36 368.8,147.89 369.6,146.81 370.3,146.26 371.1,145.32 371.8,144.09 372.6,143.61 373.3,142.70 374.1,141.95 374.8,140.55 375.6,139.94 376.3,139.29 377.1,138.63 377.8,137.78 378.6,137.15 379.3,136.66 380.1,136.24 380.8,135.62 381.6,134.69 382.3,134.49 383.1,134.21 383.8,133.67 384.6,133.07 385.3,132.60 386.1,132.12 386.8,131.57 387.6,130.86 388.3,130.02 389.1,130.17 389.8,129.62 390.6,128.98 391.3,127.85 392.1,128.36 392.8,127.94 393.6,127.23 394.3,126.99 395.1,126.14 395.8,126.39 396.6,125.82 397.3,125.11 398.1,125.06 398.8,125.16 399.6,124.94 400.3,124.50 401.1,124.43 401.8,124.30 402.6,123.78 403.3,124.07 404.1,123.63 404.8,123.32 405.6,123.15 406.3,123.61 407.1,123.74 407.8,123.27 408.6,123.31 409.3,123.69 410.1,123.89 410.8,123.99 411.6,124.16 412.3,124.45 413.1,124.45 413.8,124.16 414.6,124.82 415.3,125.00 416.1,125.67 416.8,125.92 417.6,126.54 418.3,127.16 419.1,127.47 419.8,128.21 420.6,128.76 421.3,129.15 422.1,129.18 422.8,129.81 423.6,130.33 424.3,130.47 425.1,131.06 425.8,131.62 426.6,132.19 427.3,132.73 428.1,132.78 428.8,133.73 429.6,134.14 430.3,134.50 431.1,135.44 431.8,135.79 432.6,136.51 433.3,137.27 434.1,137.79 434.8,138.35 435.6,139.11 436.3,139.47 437.1,140.19 437.8,141.03 438.6,141.54 439.3,142.74 440.1,143.65 440.8,144.22 441.6,145.48 442.3,146.27 443.1,147.19 443.8,147.78 444.6,148.65 445.3,149.58 446.1,150.30 446.8,151.10 447.6,151.99 448.3,152.46 449.1,153.45 449.8,154.07 450.6,154.00 451.3,155.25 452.1,155.48 452.8,155.85 453.6,156.25 454.3,156.87 455.1,157.35 455.8,158.00 456.6,158.10 457.3,158.78 458.1,159.38 458.8,160.29 459.6,160.96 460.3,161.55 461.1,162.34 461.8,162.65 462.6,163.63 463.3,163.99 464.1,164.28 464.8,164.54 465.6,164.63 466.3,164.69 467.1,164.78 467.8,164.81 468.6,165.08 469.3,164.66 470.1,164.76 470.8,164.84 471.6,164.76 472.3,164.37 473.1,164.48 473.8,164.16 474.6,164.43 475.3,164.58 476.1,164.43 476.8,164.33 477.6,164.64 478.3,164.73 479.1,164.67 479.8,164.59 480.6,164.90 481.3,165.09 482.1,165.23 482.8,165.36 483.6,165.11 484.3,165.27 485.1,165.65 485.8,165.73 486.6,165.80 487.3,165.66 488.1,165.98 488.8,165.83 489.6,166.20 490.3,166.37 491.1,166.49 491.8,166.30 492.6,166.62 493.3,166.58 494.1,166.83 494.8,167.09 495.6,166.95 496.3,167.30 497.1,167.41 497.8,167.30 498.6,167.66 499.3,167.69 500.1,167.76 500.8,167.40 501.6,167.31 502.3,167.79 503.1,168.16 503.8,167.99 504.6,168.24 505.3,168.20 506.1,168.43 506.8,168.45 507.6,168.42 508.3,168.26 509.1,168.60 509.8,168.71 510.6,168.73 511.3,168.84 512.0,168.80 512.8,168.99 513.5,169.19 514.3,169.32 515.0,169.44 515.8,169.50 516.5,169.46 517.3,169.54 518.0,169.48 518.8,169.92 519.5,169.64 520.3,169.97 521.0,170.10 521.8,169.82 522.5,169.41 523.3,169.94 524.0,170.21 524.8,170.53 525.5,170.74 526.3,171.61 527.0,176.38 527.8,177.33 528.5,178.03 529.3,178.39 530.0,179.28 530.8,180.04 531.5,180.38 532.3,181.16 533.0,182.28 533.8,182.36 534.5,183.61 535.3,184.30 536.0,185.76 536.8,188.35 537.5,190.81 538.3,194.26 539.0,196.60 539.8,198.99 540.5,200.97 541.3,202.75 542.0,204.53 542.8,206.53 543.5,208.33 544.3,210.32 545.0,211.73 545.8,213.26 546.5,213.99 547.3,214.30 548.0,215.50 548.8,217.48 549.5,219.75 550.3,220.71 551.0,221.83 551.8,221.52 552.5,220.28 553.3,220.41 554.0,220.82 554.8,221.77 555.5,222.45 556.3,223.34 557.0,224.20 557.8,224.78 558.5,225.76 559.3,226.37 560.0,226.75 560.8,226.29 561.5,225.84 562.3,224.73 563.0,223.48 563.8,223.03 564.5,221.47 565.3,221.05 566.0,220.62 566.8,220.18 567.5,219.93 568.3,219.43 569.0,219.50 569.8,219.51 570.5,219.28 571.3,219.00 572.0,219.09 572.8,218.83 573.5,218.80 574.3,218.58 575.0,218.67 575.8,218.41 576.5,218.60 577.3,217.95 578.0,218.27 578.8,218.71 579.5,218.61 580.3,218.51 581.0,218.42 581.8,218.10 582.5,218.47 583.3,218.65 584.0,218.65 584.8,218.27 585.5,218.56 586.3,218.00 587.0,218.16 587.8,217.36 588.5,217.87 589.3,217.63 590.0,217.13 590.8,217.39 591.5,217.20 592.3,216.97 593.0,216.80 593.8,216.75 594.5,216.59 595.3,216.24 596.0,216.43 596.8,215.92 597.5,216.17 598.3,216.03 599.0,215.58 599.8,215.63 600.5,215.63 601.3,215.28 602.0,215.09 602.8,215.21 603.5,214.81 604.3,214.51 605.0,214.66 605.8,214.38 606.5,214.61 607.3,214.18 608.0,214.44 608.8,214.40 609.5,213.98 610.3,214.09 611.0,214.16 611.8,214.18 612.5,214.20 613.3,213.67 614.0,213.88 614.8,213.97 615.5,213.43 616.3,213.70 617.0,213.82 617.8,213.82 618.5,213.84 619.3,213.77 620.0,213.63 620.8,213.20 621.5,213.75 621.5,217.54 620.8,217.43 620.0,217.58 619.3,217.54 618.5,217.69 617.8,217.57 617.0,217.92 616.3,217.67 615.5,218.34 614.8,217.77 614.0,217.81 613.3,217.92 612.5,217.90 611.8,218.04 611.0,218.23 610.3,218.17 609.5,218.21 608.8,218.37 608.0,218.36 607.3,218.46 606.5,218.34 605.8,218.72 605.0,218.57 604.3,218.65 603.5,218.74 602.8,218.91 602.0,219.09 601.3,219.28 600.5,219.47 599.8,219.53 599.0,219.70 598.3,219.78 597.5,219.98 596.8,220.12 596.0,220.10 595.3,220.34 594.5,220.42 593.8,220.92 593.0,220.82 592.3,220.94 591.5,221.47 590.8,221.12 590.0,221.79 589.3,221.55 588.5,221.85 587.8,222.03 587.0,221.99 586.3,222.31 585.5,222.50 584.8,222.65 584.0,222.42 583.3,222.58 582.5,222.59 581.8,222.51 581.0,222.48 580.3,222.72 579.5,222.55 578.8,222.61 578.0,222.46 577.3,222.33 576.5,222.39 575.8,222.70 575.0,222.45 574.3,222.44 573.5,222.99 572.8,222.90 572.0,222.95 571.3,222.88 570.5,223.01 569.8,223.51 569.0,223.46 568.3,223.87 567.5,223.72 566.8,224.48 566.0,225.07 565.3,225.63 564.5,226.20 563.8,227.26 563.0,228.28 562.3,228.83 561.5,229.70 560.8,230.83 560.0,230.44 559.3,230.54 558.5,229.91 557.8,228.83 557.0,228.16 556.3,227.60 555.5,226.67 554.8,226.16 554.0,224.92 553.3,224.28 552.5,224.60 551.8,225.38 551.0,226.08 550.3,225.52 549.5,223.54 548.8,221.78 548.0,219.45 547.3,218.72 546.5,217.99 545.8,217.33 545.0,216.20 544.3,214.87 543.5,212.24 542.8,210.27 542.0,208.77 541.3,206.61 540.5,204.86 539.8,202.85 539.0,200.72 538.3,198.31 537.5,194.91 536.8,192.43 536.0,190.27 535.3,188.74 534.5,187.57 533.8,186.93 533.0,186.38 532.3,185.28 531.5,184.65 530.8,183.82 530.0,182.94 529.3,182.35 528.5,181.78 527.8,181.27 527.0,180.33 526.3,175.51 525.5,174.81 524.8,174.52 524.0,174.39 523.3,174.39 522.5,173.88 521.8,173.81 521.0,174.18 520.3,173.85 519.5,173.98 518.8,173.62 518.0,173.77 517.3,173.47 516.5,173.54 515.8,173.58 515.0,173.54 514.3,173.23 513.5,173.13 512.8,172.86 512.0,173.49 511.3,173.04 510.6,172.93 509.8,172.80 509.1,173.05 508.3,172.34 507.6,172.24 506.8,172.38 506.1,172.18 505.3,172.42 504.6,172.39 503.8,172.28 503.1,172.16 502.3,171.89 501.6,171.82 500.8,171.79 500.1,171.73 499.3,171.43 498.6,171.60 497.8,171.44 497.1,171.47 496.3,171.20 495.6,171.52 494.8,170.87 494.1,170.71 493.3,170.67 492.6,170.53 491.8,170.65 491.1,170.28 490.3,170.08 489.6,170.29 488.8,169.81 488.1,170.33 487.3,169.63 486.6,169.78 485.8,169.42 485.1,169.52 484.3,169.41 483.6,169.09 482.8,169.02 482.1,169.28 481.3,168.89 480.6,168.92 479.8,168.91 479.1,168.74 478.3,168.68 477.6,168.49 476.8,168.42 476.1,168.65 475.3,168.37 474.6,168.57 473.8,168.98 473.1,168.69 472.3,168.75 471.6,168.66 470.8,168.85 470.1,168.82 469.3,168.89 468.6,168.72 467.8,168.79 467.1,168.60 466.3,168.69 465.6,168.99 464.8,168.77 464.1,167.96 463.3,167.83 462.6,167.47 461.8,167.28 461.1,166.52 460.3,165.71 459.6,165.22 458.8,165.04 458.1,163.38 457.3,163.23 456.6,162.44 455.8,162.09 455.1,161.82 454.3,160.85 453.6,160.52 452.8,159.95 452.1,159.45 451.3,158.97 450.6,158.52 449.8,158.19 449.1,157.14 448.3,156.65 447.6,156.08 446.8,155.12 446.1,154.21 445.3,153.46 444.6,153.12 443.8,151.88 443.1,151.19 442.3,150.21 441.6,149.23 440.8,148.54 440.1,147.58 439.3,146.79 438.6,146.08 437.8,145.50 437.1,144.29 436.3,143.60 435.6,143.19 434.8,142.83 434.1,141.90 433.3,141.35 432.6,140.52 431.8,140.90 431.1,139.13 430.3,138.74 429.6,138.47 428.8,137.59 428.1,137.39 427.3,136.54 426.6,136.49 425.8,135.52 425.1,135.04 424.3,134.56 423.6,134.16 422.8,133.84 422.1,133.74 421.3,133.11 420.6,132.85 419.8,132.15 419.1,131.39 418.3,130.98 417.6,130.37 416.8,130.25 416.1,129.72 415.3,129.13 414.6,129.27 413.8,128.65 413.1,128.48 412.3,128.26 411.6,128.05 410.8,128.32 410.1,127.58 409.3,127.78 408.6,127.64 407.8,127.76 407.1,127.51 406.3,127.88 405.6,127.76 404.8,127.70 404.1,128.05 403.3,127.95 402.6,128.23 401.8,128.31 401.1,128.12 400.3,128.33 399.6,128.84 398.8,129.09 398.1,129.30 397.3,129.71 396.6,130.06 395.8,130.02 395.1,130.49 394.3,130.75 393.6,131.88 392.8,131.74 392.1,132.05 391.3,132.56 390.6,133.29 389.8,133.64 389.1,133.86 388.3,134.80 387.6,135.06 386.8,135.84 386.1,136.00 385.3,136.55 384.6,136.98 383.8,137.56 383.1,138.29 382.3,138.35 381.6,139.54 380.8,139.80 380.1,139.89 379.3,140.54 378.6,141.57 377.8,141.83 377.1,142.40 376.3,143.53 375.6,144.64 374.8,144.85 374.1,145.80 373.3,147.20 372.6,147.49 371.8,148.41 371.1,149.17 370.3,149.93 369.6,151.00 368.8,151.79 368.1,152.41 367.3,153.19 366.6,154.05 365.8,154.60 365.1,155.37 364.3,155.98 363.6,157.12 362.8,157.24 362.1,158.04 361.3,158.32 360.6,159.14 359.8,159.76 359.1,160.06 358.3,161.00 357.6,161.27 356.8,161.95 356.1,162.21 355.3,162.70 354.6,163.53 353.8,163.65 353.1,164.42 352.3,164.43 351.6,164.85 350.8,165.11 350.1,165.70 349.3,166.07 348.6,167.14 347.8,167.33 347.1,167.89 346.3,167.86 345.6,168.41 344.8,168.51 344.1,169.16 343.3,169.17 342.6,169.22 341.8,169.77 341.1,170.18 340.3,171.01 339.6,171.12 338.8,171.36 338.1,171.52 337.3,171.93 336.6,172.19 335.8,172.19 335.1,172.10 334.3,172.30 333.6,172.40 332.8,173.08 332.1,172.51 331.3,173.22 330.6,172.86 329.8,173.20 329.1,173.65 328.3,173.36 327.6,173.28 326.8,173.38 326.1,173.77 325.3,173.97 324.6,173.58 323.8,173.54 323.1,173.75 322.3,173.94 321.6,173.88 320.8,173.98 320.1,173.90 319.3,174.32 318.6,174.03 317.8,174.40 317.1,174.13 316.3,174.07 315.6,174.03 314.8,174.14 314.1,173.69 313.3,174.07 312.6,173.94 311.8,173.62 311.1,173.39 310.3,173.42 309.6,173.12 308.8,173.11 308.1,172.98 307.3,172.91 306.6,172.37 305.8,172.76 305.1,172.64 304.3,172.32 303.6,172.11 302.8,171.91 302.1,171.87 301.3,172.18 300.6,172.16 299.8,171.90 299.1,172.20 298.3,172.32 297.6,172.06 296.8,172.34 296.1,172.44 295.3,172.32 294.6,172.56 293.8,172.95 293.1,173.04 292.3,173.17 291.6,173.79 290.8,173.53 290.1,173.84 289.3,174.32 288.6,174.29 287.8,174.44 287.1,174.76 286.3,174.90 285.6,175.35 284.8,175.36 284.1,175.49 283.3,175.92 282.6,176.31 281.8,176.33 281.1,176.08 280.3,176.32 279.6,176.61 278.8,176.94 278.1,177.29 277.3,177.37 276.6,177.55 275.8,178.31 275.1,177.97 274.3,178.54 273.6,178.90 272.8,178.90 272.1,178.98 271.3,179.07 270.6,179.20 269.8,179.62 269.1,179.47 268.3,179.71 267.6,179.78 266.8,179.78 266.1,180.08 265.3,180.09 264.6,180.42 263.8,180.61 263.1,180.49 262.3,180.72 261.6,180.88 260.8,181.34 260.1,181.01 259.3,181.72 258.6,181.66 257.8,181.62 257.1,181.71 256.3,181.82 255.6,182.04 254.8,182.08 254.1,182.27 253.3,182.46 252.6,182.53 251.8,182.80 251.1,182.92 250.3,183.19 249.6,183.67 248.8,183.40 248.1,183.76 247.3,183.80 246.6,184.21 245.8,184.12 245.1,184.50 244.3,184.70 243.6,184.63 242.8,184.83 242.1,185.11 241.3,185.06 240.6,185.32 239.8,185.58 239.1,186.20 238.3,186.15 237.6,185.91 236.8,186.26 236.1,186.49 235.3,185.88 234.6,185.86 233.8,185.91 233.1,186.05 232.3,185.90 231.6,186.15 230.8,185.84 230.1,185.98 229.3,185.89 228.6,185.91 227.8,185.84 227.1,185.84 226.3,186.24 225.6,185.88 224.8,185.87 224.1,185.94 223.3,185.72 222.6,186.21 221.8,185.80 221.1,185.77 220.3,185.64 219.6,185.48 218.8,186.01 218.1,185.56 217.3,185.57 216.6,185.84 215.8,185.47 215.1,185.34 214.3,185.06 213.6,184.96 212.8,184.90 212.1,185.01 211.3,184.73 210.6,184.75 209.8,185.08 209.1,184.72 208.3,184.34 207.6,184.52 206.8,184.37 206.1,184.07 205.3,184.21 204.6,184.11 203.8,183.94 203.1,183.74 202.3,183.88 201.6,183.81 200.8,183.73 200.1,183.38 199.3,183.68 198.6,183.35 197.8,183.24 197.1,183.10 196.3,183.15 195.6,183.21 194.8,183.34 194.1,182.96 193.3,183.07 192.6,183.25 191.8,183.15 191.1,183.06 190.3,182.96 189.6,183.00 188.8,182.67 188.1,182.83 187.3,182.49 186.6,182.46 185.8,182.68 185.1,182.32 184.3,182.23 183.6,182.41 182.8,182.41 182.1,182.06 181.3,182.10 180.6,181.76 179.8,181.69 179.1,182.39 178.3,181.73 177.6,181.66 176.8,181.64 176.1,181.54 175.3,181.27 174.6,181.16 173.8,181.14 173.1,180.92 172.3,180.91 171.6,180.88 170.8,180.75 170.1,180.85 169.3,180.60 168.6,180.50 167.8,181.36 167.1,180.50 166.3,180.44 165.6,180.38 164.8,180.64 164.1,180.52 163.3,180.23 162.6,179.98 161.8,179.91 161.1,180.15 160.3,180.05 159.6,179.82 158.8,179.74 158.1,179.97 157.3,179.49 156.6,179.50 155.8,179.37 155.1,179.63 154.3,179.53 153.6,179.15 152.8,179.27 152.1,179.14 151.3,178.93 150.6,178.94 149.8,178.77 149.1,178.70 148.3,178.92 147.6,178.63 146.8,178.87 146.1,178.95 145.3,178.68 144.6,178.47 143.8,178.48 143.1,178.32 142.3,178.49 141.6,178.24 140.8,178.36 140.1,177.89 139.3,178.09 138.6,178.03 137.8,177.66 137.1,177.89 136.3,177.94 135.6,177.88 134.8,177.55 134.1,177.44 133.3,177.29 132.6,177.43 131.8,177.22 131.1,177.89 130.3,176.93 129.6,177.00 128.8,177.03 128.1,176.99 127.3,176.76 126.5,176.87 125.8,177.24 125.0,176.71 124.3,176.61 123.5,176.29 122.8,176.20 122.0,176.25 121.3,176.11 120.5,176.15 119.8,176.05 119.0,175.87 118.3,175.95 117.5,176.00 116.8,175.91 116.0,176.06 115.3,175.69 114.5,175.73 113.8,175.43" fill="#6868ff" stroke="#6868ff" stroke-width="1.6" stroke-linejoin="round"/>
<polyline points="113.8,173.50 114.8,173.60 115.8,173.70 116.8,173.80 117.8,173.90 118.8,174.00 119.8,174.10 120.8,174.20 121.8,174.30 122.8,174.40 123.8,174.49 124.8,174.59 125.8,174.69 126.8,174.79 127.8,174.88 128.8,174.98 129.8,175.08 130.8,175.17 131.8,175.27 132.8,175.37 133.8,175.46 134.8,175.56 135.8,175.65 136.8,175.75 137.8,175.84 138.8,175.94 139.8,176.03 140.8,176.13 141.8,176.22 142.8,176.32 143.8,176.41 144.8,176.50 145.8,176.60 146.8,176.69 147.8,176.78 148.8,176.87 149.8,176.96 150.8,177.05 151.8,177.14 152.8,177.23 153.8,177.32 154.8,177.41 155.8,177.50 156.8,177.58 157.8,177.67 158.8,177.76 159.8,177.85 160.8,177.94 161.8,178.02 162.8,178.11 163.8,178.20 164.8,178.30 165.8,178.39 166.8,178.48 167.8,178.58 168.8,178.67 169.8,178.78 170.8,178.88 171.8,178.98 172.8,179.09 173.8,179.20 174.8,179.30 175.8,179.41 176.8,179.52 177.8,179.63 178.8,179.74 179.8,179.84 180.8,179.95 181.8,180.05 182.8,180.16 183.8,180.26 184.8,180.35 185.8,180.45 186.8,180.54 187.8,180.62 188.8,180.71 189.8,180.78 190.8,180.86 191.8,180.92 192.8,180.98 193.8,181.04 194.8,181.09 195.8,181.15 196.8,181.21 197.8,181.27 198.8,181.34 199.8,181.43 200.8,181.53 201.8,181.64 202.8,181.77 203.8,181.90 204.8,182.04 205.8,182.18 206.8,182.32 207.8,182.45 208.8,182.58 209.8,182.69 210.8,182.81 211.8,182.93 212.8,183.05 213.8,183.17 214.8,183.28 215.8,183.38 216.8,183.48 217.8,183.55 218.8,183.62 219.8,183.68 220.8,183.74 221.8,183.80 222.8,183.85 223.8,183.90 224.8,183.94 225.8,183.97 226.8,183.99 227.8,184.00 228.8,184.00 229.8,184.00 230.8,184.00 231.8,184.00 232.8,184.00 233.8,184.00 234.8,184.00 235.8,184.00 236.8,183.95 237.8,183.84 238.8,183.69 239.8,183.50 240.8,183.29 241.8,183.08 242.8,182.88 243.8,182.69 244.8,182.48 245.8,182.26 246.8,182.03 247.8,181.79 248.8,181.55 249.8,181.32 250.8,181.10 251.8,180.88 252.8,180.67 253.8,180.45 254.8,180.24 255.8,180.03 256.8,179.82 257.8,179.62 258.8,179.42 259.8,179.22 260.8,179.01 261.8,178.81 262.8,178.62 263.8,178.43 264.8,178.25 265.8,178.08 266.8,177.94 267.8,177.81 268.8,177.68 269.8,177.53 270.8,177.34 271.8,177.10 272.8,176.83 273.8,176.52 274.8,176.20 275.8,175.87 276.8,175.54 277.8,175.21 278.8,174.90 279.8,174.62 280.8,174.34 281.8,174.07 282.8,173.81 283.8,173.54 284.8,173.28 285.8,173.02 286.8,172.76 287.8,172.51 288.8,172.25 289.8,171.98 290.8,171.69 291.8,171.39 292.8,171.09 293.8,170.81 294.8,170.57 295.8,170.39 296.8,170.28 297.8,170.20 298.8,170.13 299.8,170.07 300.8,170.03 301.8,170.00 302.8,170.01 303.8,170.09 304.8,170.22 305.8,170.40 306.8,170.61 307.8,170.82 308.8,171.02 309.8,171.19 310.8,171.34 311.8,171.51 312.8,171.68 313.8,171.85 314.8,172.00 315.8,172.11 316.8,172.18 317.8,172.20 318.8,172.17 319.8,172.12 320.8,172.04 321.8,171.95 322.8,171.84 323.8,171.73 324.8,171.63 325.8,171.53 326.8,171.42 327.8,171.29 328.8,171.16 329.8,171.03 330.8,170.88 331.8,170.74 332.8,170.58 333.8,170.44 334.8,170.30 335.8,170.14 336.8,169.97 337.8,169.75 338.8,169.47 339.8,168.99 340.8,168.37 341.8,167.73 342.8,167.17 343.8,166.79 344.8,166.50 345.8,166.16 346.8,165.69 347.8,165.14 348.8,164.52 349.8,163.89 350.8,163.26 351.8,162.67 352.8,162.11 353.8,161.56 354.8,160.99 355.8,160.41 356.8,159.79 357.8,159.13 358.8,158.43 359.8,157.69 360.8,156.91 361.8,156.12 362.8,155.30 363.8,154.46 364.8,153.60 365.8,152.70 366.8,151.77 367.8,150.80 368.8,149.79 369.8,148.69 370.8,147.54 371.8,146.37 372.8,145.23 373.8,144.05 374.8,142.89 375.8,141.80 376.8,140.83 377.8,139.92 378.8,139.07 379.8,138.28 380.8,137.54 381.8,136.85 382.8,136.20 383.8,135.56 384.8,134.92 385.8,134.27 386.8,133.58 387.8,132.89 388.8,132.20 389.8,131.53 390.8,130.90 391.8,130.31 392.8,129.74 393.8,129.19 394.8,128.67 395.8,128.20 396.8,127.78 397.8,127.40 398.8,127.03 399.8,126.68 400.8,126.38 401.8,126.14 402.8,125.99 403.8,125.88 404.8,125.78 405.8,125.70 406.8,125.64 407.8,125.61 408.8,125.61 409.8,125.70 410.8,125.88 411.8,126.12 412.8,126.41 413.8,126.71 414.8,127.05 415.8,127.52 416.8,128.09 417.8,128.73 418.8,129.40 419.8,130.08 420.8,130.74 421.8,131.33 422.8,131.89 423.8,132.45 424.8,133.01 425.8,133.59 426.8,134.21 427.8,134.87 428.8,135.57 429.8,136.31 430.8,137.09 431.8,137.88 432.8,138.70 433.8,139.54 434.8,140.40 435.8,141.30 436.8,142.23 437.8,143.20 438.8,144.21 439.8,145.31 440.8,146.47 441.8,147.63 442.8,148.76 443.8,149.89 444.8,151.01 445.8,152.09 446.8,153.12 447.8,154.14 448.8,155.10 449.8,155.97 450.8,156.72 451.8,157.39 452.8,158.03 453.8,158.66 454.8,159.27 455.8,159.86 456.8,160.49 457.8,161.25 458.8,162.24 459.8,163.29 460.8,164.20 461.8,165.06 462.8,165.74 463.8,166.08 464.8,166.34 465.8,166.57 466.8,166.74 467.8,166.85 468.8,166.90 469.8,166.88 470.8,166.84 471.8,166.77 472.8,166.69 473.8,166.62 474.8,166.55 475.8,166.51 476.8,166.50 477.8,166.55 478.8,166.65 479.8,166.78 480.8,166.91 481.8,167.05 482.8,167.17 483.8,167.30 484.8,167.43 485.8,167.57 486.8,167.71 487.8,167.85 488.8,168.00 489.8,168.14 490.8,168.29 491.8,168.45 492.8,168.62 493.8,168.78 494.8,168.94 495.8,169.10 496.8,169.25 497.8,169.39 498.8,169.53 499.8,169.64 500.8,169.75 501.8,169.85 502.8,169.95 503.8,170.04 504.8,170.13 505.8,170.23 506.8,170.32 507.8,170.42 508.8,170.53 509.8,170.65 510.8,170.78 511.8,170.91 512.8,171.04 513.8,171.17 514.8,171.30 515.8,171.43 516.8,171.56 517.8,171.68 518.8,171.78 519.8,171.86 520.8,171.92 521.8,172.00 522.8,172.09 523.8,172.23 524.8,172.42 525.8,173.01 526.8,176.88 527.8,179.28 528.8,180.02 529.8,180.90 530.8,181.88 531.8,182.87 532.8,183.91 533.8,184.88 534.8,185.95 535.8,187.48 536.8,190.25 537.8,194.19 538.8,197.90 539.8,200.92 540.8,203.49 541.8,205.98 542.8,208.39 543.8,210.91 544.8,213.52 545.8,215.12 546.8,216.12 547.8,217.26 548.8,219.56 549.8,222.11 550.8,223.78 551.8,223.36 552.8,222.56 553.8,222.63 554.8,223.83 555.8,224.93 556.8,225.99 557.8,226.92 558.8,227.86 559.8,228.53 560.8,228.39 561.8,227.39 562.8,226.20 563.8,224.98 564.8,223.78 565.8,222.95 566.8,222.28 567.8,221.83 568.8,221.55 569.8,221.33 570.8,221.14 571.8,220.95 572.8,220.76 573.8,220.61 574.8,220.52 575.8,220.50 576.8,220.51 577.8,220.52 578.8,220.54 579.8,220.56 580.8,220.58 581.8,220.59 582.8,220.60 583.8,220.57 584.8,220.47 585.8,220.32 586.8,220.12 587.8,219.90 588.8,219.67 589.8,219.45 590.8,219.26 591.8,219.08 592.8,218.90 593.8,218.71 594.8,218.52 595.8,218.34 596.8,218.15 597.8,217.97 598.8,217.79 599.8,217.60 600.8,217.41 601.8,217.22 602.8,217.04 603.8,216.87 604.8,216.72 605.8,216.60 606.8,216.50 607.8,216.40 608.8,216.31 609.8,216.23 610.8,216.16 611.8,216.09 612.8,216.03 613.8,215.96 614.8,215.90 615.8,215.84 616.8,215.79 617.8,215.73 618.8,215.69 619.8,215.64 620.8,215.60" fill="none" stroke="#0000ff" stroke-width="2.1" stroke-linejoin="round" stroke-linecap="butt"/>
</g>
<g stroke="#000" stroke-width="0.65" fill="none">
<line x1="113.5" y1="84.85" x2="113.5" y2="79.05"/>
<line x1="113.5" y1="481.5" x2="113.5" y2="487.30"/>
<line x1="134.5" y1="84.85" x2="134.5" y2="81.55"/>
<line x1="134.5" y1="481.5" x2="134.5" y2="484.80"/>
<line x1="155.5" y1="84.85" x2="155.5" y2="81.55"/>
<line x1="155.5" y1="481.5" x2="155.5" y2="484.80"/>
<line x1="177.5" y1="84.85" x2="177.5" y2="81.55"/>
<line x1="177.5" y1="481.5" x2="177.5" y2="484.80"/>
<line x1="198.5" y1="84.85" x2="198.5" y2="81.55"/>
<line x1="198.5" y1="481.5" x2="198.5" y2="484.80"/>
<line x1="219.5" y1="84.85" x2="219.5" y2="81.55"/>
<line x1="219.5" y1="481.5" x2="219.5" y2="484.80"/>
<line x1="240.5" y1="84.85" x2="240.5" y2="79.05"/>
<line x1="240.5" y1="481.5" x2="240.5" y2="487.30"/>
<line x1="262.5" y1="84.85" x2="262.5" y2="81.55"/>
<line x1="262.5" y1="481.5" x2="262.5" y2="484.80"/>
<line x1="283.5" y1="84.85" x2="283.5" y2="81.55"/>
<line x1="283.5" y1="481.5" x2="283.5" y2="484.80"/>
<line x1="304.5" y1="84.85" x2="304.5" y2="81.55"/>
<line x1="304.5" y1="481.5" x2="304.5" y2="484.80"/>
<line x1="325.5" y1="84.85" x2="325.5" y2="81.55"/>
<line x1="325.5" y1="481.5" x2="325.5" y2="484.80"/>
<line x1="347.5" y1="84.85" x2="347.5" y2="81.55"/>
<line x1="347.5" y1="481.5" x2="347.5" y2="484.80"/>
<line x1="368.5" y1="84.85" x2="368.5" y2="79.05"/>
<line x1="368.5" y1="481.5" x2="368.5" y2="487.30"/>
<line x1="389.5" y1="84.85" x2="389.5" y2="81.55"/>
<line x1="389.5" y1="481.5" x2="389.5" y2="484.80"/>
<line x1="410.5" y1="84.85" x2="410.5" y2="81.55"/>
<line x1="410.5" y1="481.5" x2="410.5" y2="484.80"/>
<line x1="432.5" y1="84.85" x2="432.5" y2="81.55"/>
<line x1="432.5" y1="481.5" x2="432.5" y2="484.80"/>
<line x1="453.5" y1="84.85" x2="453.5" y2="81.55"/>
<line x1="453.5" y1="481.5" x2="453.5" y2="484.80"/>
<line x1="474.5" y1="84.85" x2="474.5" y2="81.55"/>
<line x1="474.5" y1="481.5" x2="474.5" y2="484.80"/>
<line x1="495.5" y1="84.85" x2="495.5" y2="79.05"/>
<line x1="495.5" y1="481.5" x2="495.5" y2="487.30"/>
<line x1="517.5" y1="84.85" x2="517.5" y2="81.55"/>
<line x1="517.5" y1="481.5" x2="517.5" y2="484.80"/>
<line x1="538.5" y1="84.85" x2="538.5" y2="81.55"/>
<line x1="538.5" y1="481.5" x2="538.5" y2="484.80"/>
<line x1="559.5" y1="84.85" x2="559.5" y2="81.55"/>
<line x1="559.5" y1="481.5" x2="559.5" y2="484.80"/>
<line x1="580.5" y1="84.85" x2="580.5" y2="81.55"/>
<line x1="580.5" y1="481.5" x2="580.5" y2="484.80"/>
<line x1="602.5" y1="84.85" x2="602.5" y2="81.55"/>
<line x1="602.5" y1="481.5" x2="602.5" y2="484.80"/>
<line x1="113.4" y1="84.5" x2="107.10" y2="84.5"/>
<line x1="623.4" y1="84.5" x2="629.70" y2="84.5"/>
<line x1="113.4" y1="124.5" x2="110.40" y2="124.5"/>
<line x1="623.4" y1="124.5" x2="626.40" y2="124.5"/>
<line x1="113.4" y1="164.5" x2="110.40" y2="164.5"/>
<line x1="623.4" y1="164.5" x2="626.40" y2="164.5"/>
<line x1="113.4" y1="203.5" x2="110.40" y2="203.5"/>
<line x1="623.4" y1="203.5" x2="626.40" y2="203.5"/>
<line x1="113.4" y1="243.5" x2="110.40" y2="243.5"/>
<line x1="623.4" y1="243.5" x2="626.40" y2="243.5"/>
<line x1="113.4" y1="283.5" x2="107.10" y2="283.5"/>
<line x1="623.4" y1="283.5" x2="629.70" y2="283.5"/>
<line x1="113.4" y1="322.5" x2="110.40" y2="322.5"/>
<line x1="623.4" y1="322.5" x2="626.40" y2="322.5"/>
<line x1="113.4" y1="362.5" x2="110.40" y2="362.5"/>
<line x1="623.4" y1="362.5" x2="626.40" y2="362.5"/>
<line x1="113.4" y1="402.5" x2="110.40" y2="402.5"/>
<line x1="623.4" y1="402.5" x2="626.40" y2="402.5"/>
<line x1="113.4" y1="441.5" x2="110.40" y2="441.5"/>
<line x1="623.4" y1="441.5" x2="626.40" y2="441.5"/>
<line x1="113.4" y1="481.5" x2="107.10" y2="481.5"/>
<line x1="623.4" y1="481.5" x2="629.70" y2="481.5"/>
</g>
<rect x="113.4" y="84.85" width="510.00" height="396.65" fill="none" stroke="#000" stroke-width="1.5"/>
<text x="148.0" y="45.45" font-size="35.93">Soil Temperature / 2009-05-31</text>
<text x="101.0" y="70.7" dx="0 0 0.5 0.3" font-size="16.5">[˚C]</text>
<text transform="translate(103.3,90.75) scale(1.07,1)" font-size="18.8" text-anchor="end" style="stroke-width:0.28px">20</text>
<text transform="translate(105.6,289.8) scale(1.07,1)" font-size="18.8" text-anchor="end" style="stroke-width:0.28px">15</text>
<text transform="translate(105.7,487.8) scale(1.07,1)" font-size="18.8" text-anchor="end" style="stroke-width:0.28px">10</text>
<text transform="translate(90.70,506.95) scale(1.08,1)" font-size="18.8" style="stroke-width:0.3px">00:00</text>
<text transform="translate(218.70,506.95) scale(1.08,1)" font-size="18.8" style="stroke-width:0.3px">06:00</text>
<text transform="translate(347.30,506.95) scale(1.08,1)" font-size="18.8" style="stroke-width:0.3px">12:00</text>
<text transform="translate(475.20,506.95) scale(1.08,1)" font-size="18.8" style="stroke-width:0.3px">18:00</text>
<text x="368.9" y="530" font-size="19.5" text-anchor="middle">May-31</text>
<text x="369.4" y="554.8" font-size="24" text-anchor="middle">(LST)</text>
<rect x="638" y="368" width="184" height="113.5" fill="#fff" stroke="#000" stroke-width="1.5"/>
<line x1="643.1" y1="382.4" x2="655.1" y2="382.4" stroke="#000000" stroke-width="1.35"/>
<circle cx="649.1" cy="382.4" r="1.7" fill="#9a9a9a" stroke="none"/>
<circle cx="649.1" cy="382.4" r="0.55" fill="#000000" fill-opacity="0.75" stroke="none"/>
<text x="660" y="387.9" font-size="18" style="stroke-width:0.2px">at 1.0 m</text>
<line x1="643.1" y1="411.3" x2="655.1" y2="411.3" stroke="#ff0000" stroke-width="1.35"/>
<circle cx="649.1" cy="411.3" r="1.7" fill="#ffb0b0" stroke="none"/>
<circle cx="649.1" cy="411.3" r="0.55" fill="#ff0000" fill-opacity="0.75" stroke="none"/>
<text x="660" y="416.8" font-size="18" style="stroke-width:0.2px">at 0.5 m</text>
<line x1="643.1" y1="439.2" x2="655.1" y2="439.2" stroke="#00ff00" stroke-width="1.35"/>
<circle cx="649.1" cy="439.2" r="1.7" fill="#b0ffb0" stroke="none"/>
<circle cx="649.1" cy="439.2" r="0.55" fill="#00ff00" fill-opacity="0.75" stroke="none"/>
<text x="660" y="444.7" font-size="18" style="stroke-width:0.2px">at 0.1 m</text>
<line x1="643.1" y1="467.4" x2="655.1" y2="467.4" stroke="#0000ff" stroke-width="1.35"/>
<circle cx="649.1" cy="467.4" r="1.7" fill="#9a9aff" stroke="none"/>
<circle cx="649.1" cy="467.4" r="0.55" fill="#0000ff" fill-opacity="0.75" stroke="none"/>
<text x="660" y="472.9" font-size="18" style="stroke-width:0.2px">at 0.02 m</text>
<text x="780.0" y="532.7" font-size="12.0" text-anchor="end">©TERC, Univ. Tsukuba</text>
<text x="823.1" y="549.2" font-size="13.95" text-anchor="end">Observed at TERC Tower site</text>
<text x="821.7" y="566.0" font-size="13.82" text-anchor="end">Created Automatically at 2009-05-31/23:55:04</text>
<text x="820.8" y="583.1" font-size="13.85" text-anchor="end">Data source : /home/hojyo/new/TERC-data/sorted_data/MET.10s.dat</text>
<g transform="translate(785.1,504)">
<path d="M1.3,0 H32.7 Q34,0 34,1.3 V33.8 H0 V1.3 Q0,0 1.3,0 Z" fill="#0c60f0"/>
<path d="M10.8,-0.3 L11.7,2.4 Q12.5,4.7 14.2,6.0 L19.8,6.0 Q21.5,4.7 22.3,2.4 L23.1,-0.3 Z" fill="#fff"/>
<path d="M17.3,7.7 C17.6,10 20.3,12.3 20.3,14.6 C20.3,16.8 19,18.2 17.2,18.2 C15.3,18.2 14,16.8 14,14.6 C14,12.3 16.9,10 17.3,7.7 Z" fill="#fff"/>
<path d="M0,11.0 C3.5,18.3 10,21.7 17,21.7 C24,21.7 30.5,18.3 34,11.0" fill="none" stroke="#fff" stroke-width="0.95"/>
<path d="M0,16.2 C3.8,21.7 10,24.3 17,24.3 C24,24.3 30.2,21.7 34,16.2" fill="none" stroke="#fff" stroke-width="0.95"/>
<text class="logo" transform="scale(0.9,1)" x="1.75 10.6 21.3 32.2" y="33.0" font-size="8.6">TERC</text>
</g>
</svg>
</body>
</html>
